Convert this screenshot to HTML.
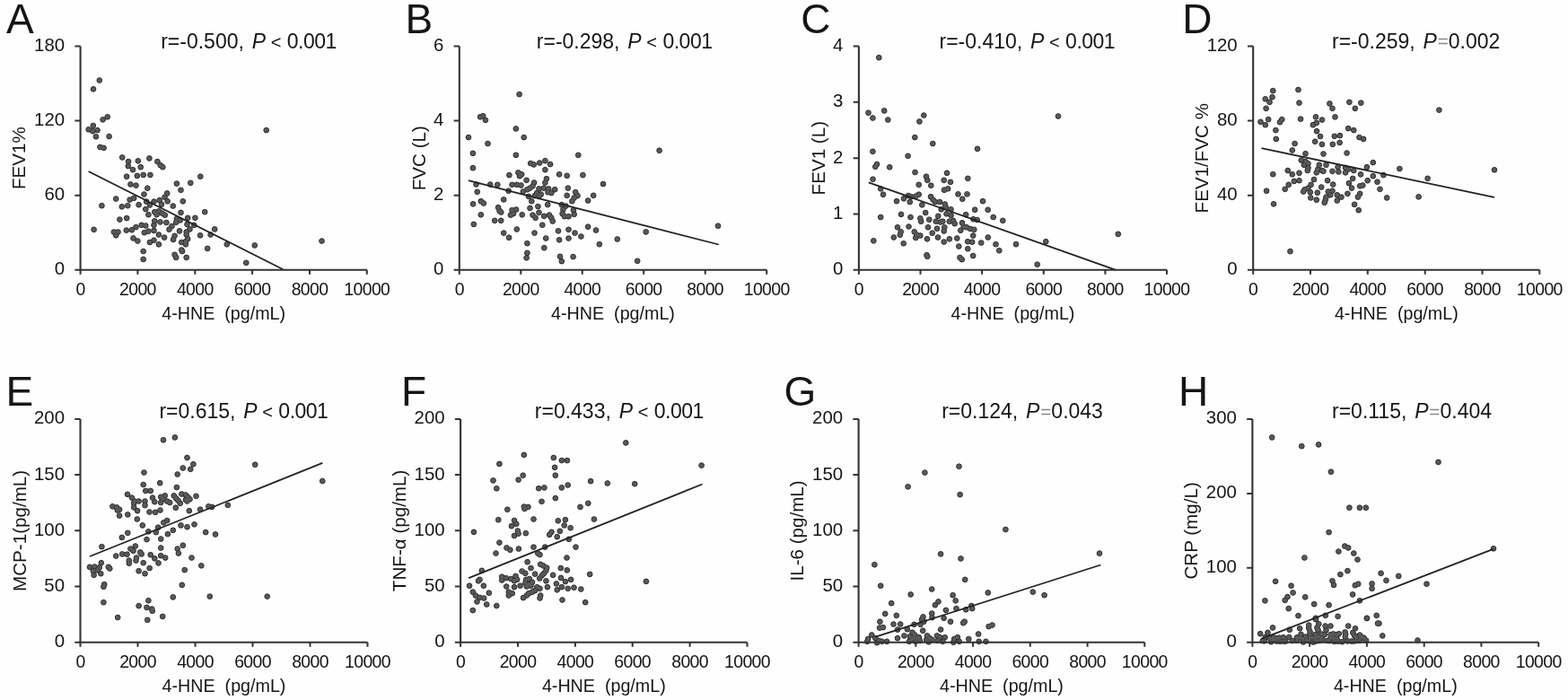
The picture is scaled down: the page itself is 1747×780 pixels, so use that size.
<!DOCTYPE html><html><head><meta charset="utf-8"><style>html,body{margin:0;padding:0;background:#fff;}svg{display:block}</style></head><body>
<svg width="1747" height="780" viewBox="0 0 1747 780" font-family='"Liberation Sans", Arial, sans-serif' fill="#151515">
<rect width="1747" height="780" fill="#fefefe"/>
<g><text x="72.1" y="306.2" text-anchor="end" font-size="20.4">0</text><text x="72.1" y="223.1" text-anchor="end" font-size="20.4">60</text><text x="72.1" y="140.0" text-anchor="end" font-size="20.4">120</text><text x="72.1" y="56.9" text-anchor="end" font-size="20.4">180</text><text x="89.6" y="328.9" text-anchor="middle" font-size="19.4" letter-spacing="-0.60">0</text><text x="153.4" y="328.9" text-anchor="middle" font-size="19.4" letter-spacing="-0.60">2000</text><text x="217.3" y="328.9" text-anchor="middle" font-size="19.4" letter-spacing="-0.60">4000</text><text x="281.1" y="328.9" text-anchor="middle" font-size="19.4" letter-spacing="-0.60">6000</text><text x="345.0" y="328.9" text-anchor="middle" font-size="19.4" letter-spacing="-0.60">8000</text><text x="408.8" y="328.9" text-anchor="middle" font-size="19.4" letter-spacing="-0.60">10000</text><text x="249.2" y="355.8" text-anchor="middle" font-size="19.7" xml:space="preserve">4-HNE  (pg/mL)</text><text transform="translate(27.6 176.2) rotate(-90)" text-anchor="middle" font-size="20.6" xml:space="preserve">FEV1%</text><text x="7.0" y="37.3" font-size="46.0">A</text><text x="179.2" y="53.8" font-size="23.0" xml:space="preserve">r=-0.500, <tspan font-style="italic" dx="2.4">P</tspan><tspan dx="-0.7"> </tspan><tspan font-size="20.0">&lt;</tspan> <tspan letter-spacing="-0.5">0.001</tspan></text><g fill="#595959" stroke="#2b2b2b" stroke-width="1"><circle cx="110.8" cy="89.5" r="2.85"/><circle cx="104.0" cy="99.3" r="2.85"/><circle cx="119.7" cy="130.3" r="2.85"/><circle cx="114.6" cy="133.3" r="2.85"/><circle cx="103.8" cy="140.0" r="2.85"/><circle cx="98.7" cy="144.3" r="2.85"/><circle cx="108.5" cy="145.1" r="2.85"/><circle cx="103.3" cy="146.2" r="2.85"/><circle cx="106.9" cy="152.3" r="2.85"/><circle cx="121.6" cy="152.0" r="2.85"/><circle cx="111.5" cy="163.9" r="2.85"/><circle cx="115.6" cy="164.8" r="2.85"/><circle cx="136.2" cy="175.4" r="2.85"/><circle cx="143.1" cy="180.0" r="2.85"/><circle cx="142.8" cy="185.1" r="2.85"/><circle cx="148.0" cy="189.2" r="2.85"/><circle cx="153.8" cy="179.3" r="2.85"/><circle cx="156.7" cy="186.2" r="2.85"/><circle cx="166.4" cy="176.4" r="2.85"/><circle cx="175.4" cy="180.0" r="2.85"/><circle cx="178.7" cy="184.1" r="2.85"/><circle cx="181.3" cy="186.2" r="2.85"/><circle cx="141.1" cy="196.7" r="2.85"/><circle cx="152.8" cy="195.9" r="2.85"/><circle cx="159.7" cy="194.9" r="2.85"/><circle cx="167.4" cy="194.9" r="2.85"/><circle cx="223.3" cy="196.7" r="2.85"/><circle cx="296.7" cy="145.1" r="2.85"/><circle cx="196.9" cy="204.6" r="2.85"/><circle cx="212.3" cy="203.8" r="2.85"/><circle cx="201.5" cy="211.8" r="2.85"/><circle cx="186.2" cy="215.4" r="2.85"/><circle cx="183.5" cy="219.7" r="2.85"/><circle cx="177.7" cy="223.1" r="2.85"/><circle cx="186.6" cy="224.3" r="2.85"/><circle cx="180.0" cy="227.7" r="2.85"/><circle cx="171.5" cy="224.6" r="2.85"/><circle cx="203.8" cy="224.3" r="2.85"/><circle cx="192.8" cy="229.5" r="2.85"/><circle cx="228.2" cy="236.2" r="2.85"/><circle cx="201.5" cy="236.9" r="2.85"/><circle cx="172.3" cy="236.2" r="2.85"/><circle cx="176.9" cy="235.4" r="2.85"/><circle cx="180.8" cy="237.7" r="2.85"/><circle cx="183.8" cy="239.7" r="2.85"/><circle cx="174.6" cy="239.2" r="2.85"/><circle cx="209.2" cy="242.8" r="2.85"/><circle cx="217.4" cy="242.8" r="2.85"/><circle cx="196.9" cy="243.8" r="2.85"/><circle cx="200.8" cy="245.4" r="2.85"/><circle cx="196.2" cy="247.7" r="2.85"/><circle cx="208.5" cy="250.0" r="2.85"/><circle cx="216.2" cy="250.8" r="2.85"/><circle cx="172.3" cy="246.2" r="2.85"/><circle cx="178.5" cy="247.4" r="2.85"/><circle cx="185.4" cy="248.0" r="2.85"/><circle cx="171.5" cy="250.8" r="2.85"/><circle cx="191.5" cy="252.0" r="2.85"/><circle cx="188.5" cy="255.7" r="2.85"/><circle cx="239.2" cy="255.4" r="2.85"/><circle cx="211.5" cy="255.4" r="2.85"/><circle cx="207.7" cy="258.5" r="2.85"/><circle cx="200.0" cy="257.4" r="2.85"/><circle cx="171.5" cy="256.9" r="2.85"/><circle cx="176.9" cy="261.5" r="2.85"/><circle cx="183.1" cy="264.6" r="2.85"/><circle cx="194.6" cy="262.8" r="2.85"/><circle cx="193.1" cy="266.9" r="2.85"/><circle cx="207.7" cy="261.5" r="2.85"/><circle cx="209.2" cy="266.2" r="2.85"/><circle cx="206.9" cy="269.2" r="2.85"/><circle cx="202.3" cy="270.0" r="2.85"/><circle cx="206.9" cy="272.3" r="2.85"/><circle cx="223.1" cy="262.3" r="2.85"/><circle cx="234.6" cy="261.5" r="2.85"/><circle cx="171.5" cy="267.7" r="2.85"/><circle cx="176.9" cy="272.3" r="2.85"/><circle cx="252.8" cy="272.3" r="2.85"/><circle cx="283.8" cy="273.4" r="2.85"/><circle cx="358.5" cy="268.5" r="2.85"/><circle cx="231.2" cy="276.9" r="2.85"/><circle cx="202.3" cy="278.5" r="2.85"/><circle cx="145.4" cy="205.4" r="2.85"/><circle cx="151.5" cy="206.6" r="2.85"/><circle cx="164.3" cy="209.7" r="2.85"/><circle cx="160.5" cy="216.5" r="2.85"/><circle cx="129.2" cy="221.5" r="2.85"/><circle cx="149.2" cy="220.8" r="2.85"/><circle cx="144.6" cy="222.6" r="2.85"/><circle cx="113.4" cy="229.2" r="2.85"/><circle cx="135.8" cy="230.3" r="2.85"/><circle cx="142.3" cy="229.2" r="2.85"/><circle cx="154.6" cy="228.2" r="2.85"/><circle cx="163.1" cy="224.6" r="2.85"/><circle cx="166.9" cy="228.5" r="2.85"/><circle cx="162.3" cy="233.1" r="2.85"/><circle cx="165.4" cy="239.2" r="2.85"/><circle cx="133.4" cy="244.6" r="2.85"/><circle cx="141.2" cy="243.1" r="2.85"/><circle cx="104.6" cy="255.8" r="2.85"/><circle cx="126.9" cy="258.5" r="2.85"/><circle cx="131.5" cy="258.5" r="2.85"/><circle cx="129.2" cy="262.3" r="2.85"/><circle cx="140.8" cy="256.6" r="2.85"/><circle cx="146.9" cy="256.2" r="2.85"/><circle cx="151.5" cy="253.1" r="2.85"/><circle cx="157.7" cy="250.8" r="2.85"/><circle cx="162.3" cy="251.5" r="2.85"/><circle cx="160.8" cy="259.2" r="2.85"/><circle cx="165.4" cy="257.7" r="2.85"/><circle cx="148.5" cy="265.4" r="2.85"/><circle cx="153.4" cy="268.5" r="2.85"/><circle cx="166.9" cy="270.0" r="2.85"/><circle cx="159.7" cy="280.0" r="2.85"/><circle cx="159.7" cy="288.9" r="2.85"/><circle cx="194.6" cy="283.8" r="2.85"/><circle cx="196.2" cy="286.9" r="2.85"/><circle cx="203.1" cy="280.0" r="2.85"/><circle cx="207.7" cy="286.9" r="2.85"/><circle cx="274.3" cy="292.8" r="2.85"/></g><g fill="#595959"><circle cx="110.8" cy="89.5" r="2.1"/><circle cx="104.0" cy="99.3" r="2.1"/><circle cx="119.7" cy="130.3" r="2.1"/><circle cx="114.6" cy="133.3" r="2.1"/><circle cx="103.8" cy="140.0" r="2.1"/><circle cx="98.7" cy="144.3" r="2.1"/><circle cx="108.5" cy="145.1" r="2.1"/><circle cx="103.3" cy="146.2" r="2.1"/><circle cx="106.9" cy="152.3" r="2.1"/><circle cx="121.6" cy="152.0" r="2.1"/><circle cx="111.5" cy="163.9" r="2.1"/><circle cx="115.6" cy="164.8" r="2.1"/><circle cx="136.2" cy="175.4" r="2.1"/><circle cx="143.1" cy="180.0" r="2.1"/><circle cx="142.8" cy="185.1" r="2.1"/><circle cx="148.0" cy="189.2" r="2.1"/><circle cx="153.8" cy="179.3" r="2.1"/><circle cx="156.7" cy="186.2" r="2.1"/><circle cx="166.4" cy="176.4" r="2.1"/><circle cx="175.4" cy="180.0" r="2.1"/><circle cx="178.7" cy="184.1" r="2.1"/><circle cx="181.3" cy="186.2" r="2.1"/><circle cx="141.1" cy="196.7" r="2.1"/><circle cx="152.8" cy="195.9" r="2.1"/><circle cx="159.7" cy="194.9" r="2.1"/><circle cx="167.4" cy="194.9" r="2.1"/><circle cx="223.3" cy="196.7" r="2.1"/><circle cx="296.7" cy="145.1" r="2.1"/><circle cx="196.9" cy="204.6" r="2.1"/><circle cx="212.3" cy="203.8" r="2.1"/><circle cx="201.5" cy="211.8" r="2.1"/><circle cx="186.2" cy="215.4" r="2.1"/><circle cx="183.5" cy="219.7" r="2.1"/><circle cx="177.7" cy="223.1" r="2.1"/><circle cx="186.6" cy="224.3" r="2.1"/><circle cx="180.0" cy="227.7" r="2.1"/><circle cx="171.5" cy="224.6" r="2.1"/><circle cx="203.8" cy="224.3" r="2.1"/><circle cx="192.8" cy="229.5" r="2.1"/><circle cx="228.2" cy="236.2" r="2.1"/><circle cx="201.5" cy="236.9" r="2.1"/><circle cx="172.3" cy="236.2" r="2.1"/><circle cx="176.9" cy="235.4" r="2.1"/><circle cx="180.8" cy="237.7" r="2.1"/><circle cx="183.8" cy="239.7" r="2.1"/><circle cx="174.6" cy="239.2" r="2.1"/><circle cx="209.2" cy="242.8" r="2.1"/><circle cx="217.4" cy="242.8" r="2.1"/><circle cx="196.9" cy="243.8" r="2.1"/><circle cx="200.8" cy="245.4" r="2.1"/><circle cx="196.2" cy="247.7" r="2.1"/><circle cx="208.5" cy="250.0" r="2.1"/><circle cx="216.2" cy="250.8" r="2.1"/><circle cx="172.3" cy="246.2" r="2.1"/><circle cx="178.5" cy="247.4" r="2.1"/><circle cx="185.4" cy="248.0" r="2.1"/><circle cx="171.5" cy="250.8" r="2.1"/><circle cx="191.5" cy="252.0" r="2.1"/><circle cx="188.5" cy="255.7" r="2.1"/><circle cx="239.2" cy="255.4" r="2.1"/><circle cx="211.5" cy="255.4" r="2.1"/><circle cx="207.7" cy="258.5" r="2.1"/><circle cx="200.0" cy="257.4" r="2.1"/><circle cx="171.5" cy="256.9" r="2.1"/><circle cx="176.9" cy="261.5" r="2.1"/><circle cx="183.1" cy="264.6" r="2.1"/><circle cx="194.6" cy="262.8" r="2.1"/><circle cx="193.1" cy="266.9" r="2.1"/><circle cx="207.7" cy="261.5" r="2.1"/><circle cx="209.2" cy="266.2" r="2.1"/><circle cx="206.9" cy="269.2" r="2.1"/><circle cx="202.3" cy="270.0" r="2.1"/><circle cx="206.9" cy="272.3" r="2.1"/><circle cx="223.1" cy="262.3" r="2.1"/><circle cx="234.6" cy="261.5" r="2.1"/><circle cx="171.5" cy="267.7" r="2.1"/><circle cx="176.9" cy="272.3" r="2.1"/><circle cx="252.8" cy="272.3" r="2.1"/><circle cx="283.8" cy="273.4" r="2.1"/><circle cx="358.5" cy="268.5" r="2.1"/><circle cx="231.2" cy="276.9" r="2.1"/><circle cx="202.3" cy="278.5" r="2.1"/><circle cx="145.4" cy="205.4" r="2.1"/><circle cx="151.5" cy="206.6" r="2.1"/><circle cx="164.3" cy="209.7" r="2.1"/><circle cx="160.5" cy="216.5" r="2.1"/><circle cx="129.2" cy="221.5" r="2.1"/><circle cx="149.2" cy="220.8" r="2.1"/><circle cx="144.6" cy="222.6" r="2.1"/><circle cx="113.4" cy="229.2" r="2.1"/><circle cx="135.8" cy="230.3" r="2.1"/><circle cx="142.3" cy="229.2" r="2.1"/><circle cx="154.6" cy="228.2" r="2.1"/><circle cx="163.1" cy="224.6" r="2.1"/><circle cx="166.9" cy="228.5" r="2.1"/><circle cx="162.3" cy="233.1" r="2.1"/><circle cx="165.4" cy="239.2" r="2.1"/><circle cx="133.4" cy="244.6" r="2.1"/><circle cx="141.2" cy="243.1" r="2.1"/><circle cx="104.6" cy="255.8" r="2.1"/><circle cx="126.9" cy="258.5" r="2.1"/><circle cx="131.5" cy="258.5" r="2.1"/><circle cx="129.2" cy="262.3" r="2.1"/><circle cx="140.8" cy="256.6" r="2.1"/><circle cx="146.9" cy="256.2" r="2.1"/><circle cx="151.5" cy="253.1" r="2.1"/><circle cx="157.7" cy="250.8" r="2.1"/><circle cx="162.3" cy="251.5" r="2.1"/><circle cx="160.8" cy="259.2" r="2.1"/><circle cx="165.4" cy="257.7" r="2.1"/><circle cx="148.5" cy="265.4" r="2.1"/><circle cx="153.4" cy="268.5" r="2.1"/><circle cx="166.9" cy="270.0" r="2.1"/><circle cx="159.7" cy="280.0" r="2.1"/><circle cx="159.7" cy="288.9" r="2.1"/><circle cx="194.6" cy="283.8" r="2.1"/><circle cx="196.2" cy="286.9" r="2.1"/><circle cx="203.1" cy="280.0" r="2.1"/><circle cx="207.7" cy="286.9" r="2.1"/><circle cx="274.3" cy="292.8" r="2.1"/></g><line x1="98.6" y1="191.0" x2="315.5" y2="300.3" stroke="#222" stroke-width="1.8"/><path d="M89.6 51.5V300.8H408.8" fill="none" stroke="#333" stroke-width="2.1"/><path d="M83.4 300.8H89.6M83.4 217.7H89.6M83.4 134.6H89.6M83.4 51.5H89.6M89.6 300.8V305.8M153.4 300.8V305.8M217.3 300.8V305.8M281.1 300.8V305.8M345.0 300.8V305.8M408.8 300.8V305.8" fill="none" stroke="#333" stroke-width="2"/></g>
<g><text x="494.3" y="306.2" text-anchor="end" font-size="20.4">0</text><text x="494.3" y="223.1" text-anchor="end" font-size="20.4">2</text><text x="494.3" y="140.0" text-anchor="end" font-size="20.4">4</text><text x="494.3" y="56.9" text-anchor="end" font-size="20.4">6</text><text x="511.8" y="328.9" text-anchor="middle" font-size="19.4" letter-spacing="-0.60">0</text><text x="580.3" y="328.9" text-anchor="middle" font-size="19.4" letter-spacing="-0.60">2000</text><text x="648.8" y="328.9" text-anchor="middle" font-size="19.4" letter-spacing="-0.60">4000</text><text x="717.2" y="328.9" text-anchor="middle" font-size="19.4" letter-spacing="-0.60">6000</text><text x="785.7" y="328.9" text-anchor="middle" font-size="19.4" letter-spacing="-0.60">8000</text><text x="854.2" y="328.9" text-anchor="middle" font-size="19.4" letter-spacing="-0.60">10000</text><text x="683.0" y="355.8" text-anchor="middle" font-size="19.7" xml:space="preserve">4-HNE  (pg/mL)</text><text transform="translate(473.8 176.2) rotate(-90)" text-anchor="middle" font-size="20.6" xml:space="preserve">FVC (L)</text><text x="451.6" y="37.3" font-size="46.0">B</text><text x="597.8" y="53.8" font-size="23.0" xml:space="preserve">r=-0.298, <tspan font-style="italic" dx="2.4">P</tspan><tspan dx="-0.7"> </tspan><tspan font-size="20.0">&lt;</tspan> <tspan letter-spacing="-0.5">0.001</tspan></text><g fill="#595959" stroke="#2b2b2b" stroke-width="1"><circle cx="578.6" cy="105.1" r="2.85"/><circle cx="535.1" cy="130.3" r="2.85"/><circle cx="538.2" cy="129.2" r="2.85"/><circle cx="540.9" cy="133.8" r="2.85"/><circle cx="574.8" cy="143.4" r="2.85"/><circle cx="522.0" cy="153.1" r="2.85"/><circle cx="583.7" cy="153.1" r="2.85"/><circle cx="543.5" cy="160.0" r="2.85"/><circle cx="526.9" cy="170.8" r="2.85"/><circle cx="574.8" cy="172.8" r="2.85"/><circle cx="644.3" cy="172.8" r="2.85"/><circle cx="734.6" cy="167.7" r="2.85"/><circle cx="526.9" cy="187.2" r="2.85"/><circle cx="591.2" cy="182.0" r="2.85"/><circle cx="594.8" cy="183.4" r="2.85"/><circle cx="601.2" cy="181.5" r="2.85"/><circle cx="607.4" cy="179.2" r="2.85"/><circle cx="613.1" cy="183.1" r="2.85"/><circle cx="607.4" cy="189.2" r="2.85"/><circle cx="567.4" cy="195.1" r="2.85"/><circle cx="577.4" cy="192.3" r="2.85"/><circle cx="581.2" cy="194.3" r="2.85"/><circle cx="578.9" cy="196.2" r="2.85"/><circle cx="623.1" cy="194.3" r="2.85"/><circle cx="631.7" cy="195.8" r="2.85"/><circle cx="649.4" cy="195.1" r="2.85"/><circle cx="608.9" cy="199.2" r="2.85"/><circle cx="586.6" cy="200.8" r="2.85"/><circle cx="607.4" cy="203.5" r="2.85"/><circle cx="672.0" cy="205.0" r="2.85"/><circle cx="530.5" cy="205.5" r="2.85"/><circle cx="546.2" cy="205.5" r="2.85"/><circle cx="554.3" cy="205.8" r="2.85"/><circle cx="570.5" cy="205.8" r="2.85"/><circle cx="575.8" cy="205.8" r="2.85"/><circle cx="580.5" cy="206.5" r="2.85"/><circle cx="595.1" cy="203.5" r="2.85"/><circle cx="593.5" cy="207.3" r="2.85"/><circle cx="590.5" cy="209.6" r="2.85"/><circle cx="587.4" cy="211.2" r="2.85"/><circle cx="582.8" cy="213.5" r="2.85"/><circle cx="566.6" cy="212.7" r="2.85"/><circle cx="531.7" cy="213.8" r="2.85"/><circle cx="632.8" cy="209.6" r="2.85"/><circle cx="600.5" cy="210.4" r="2.85"/><circle cx="605.8" cy="209.6" r="2.85"/><circle cx="611.2" cy="210.4" r="2.85"/><circle cx="618.2" cy="211.2" r="2.85"/><circle cx="598.2" cy="215.0" r="2.85"/><circle cx="602.8" cy="216.5" r="2.85"/><circle cx="610.5" cy="214.2" r="2.85"/><circle cx="614.3" cy="215.0" r="2.85"/><circle cx="588.9" cy="218.8" r="2.85"/><circle cx="595.8" cy="218.1" r="2.85"/><circle cx="600.5" cy="218.8" r="2.85"/><circle cx="631.7" cy="217.8" r="2.85"/><circle cx="641.2" cy="214.2" r="2.85"/><circle cx="643.5" cy="218.1" r="2.85"/><circle cx="639.7" cy="220.4" r="2.85"/><circle cx="637.4" cy="224.2" r="2.85"/><circle cx="661.2" cy="217.8" r="2.85"/><circle cx="655.1" cy="223.5" r="2.85"/><circle cx="561.2" cy="222.4" r="2.85"/><circle cx="527.1" cy="227.3" r="2.85"/><circle cx="535.8" cy="224.2" r="2.85"/><circle cx="538.9" cy="226.5" r="2.85"/><circle cx="592.3" cy="224.2" r="2.85"/><circle cx="610.2" cy="228.1" r="2.85"/><circle cx="599.4" cy="230.1" r="2.85"/><circle cx="590.5" cy="231.9" r="2.85"/><circle cx="555.1" cy="231.2" r="2.85"/><circle cx="556.6" cy="235.0" r="2.85"/><circle cx="558.2" cy="236.5" r="2.85"/><circle cx="570.5" cy="234.2" r="2.85"/><circle cx="575.1" cy="233.5" r="2.85"/><circle cx="572.0" cy="238.1" r="2.85"/><circle cx="568.9" cy="239.6" r="2.85"/><circle cx="581.7" cy="239.3" r="2.85"/><circle cx="600.5" cy="236.8" r="2.85"/><circle cx="593.5" cy="239.6" r="2.85"/><circle cx="596.6" cy="242.7" r="2.85"/><circle cx="535.8" cy="239.3" r="2.85"/><circle cx="625.8" cy="228.1" r="2.85"/><circle cx="630.5" cy="229.6" r="2.85"/><circle cx="627.4" cy="233.5" r="2.85"/><circle cx="626.6" cy="238.1" r="2.85"/><circle cx="628.9" cy="241.2" r="2.85"/><circle cx="633.5" cy="241.2" r="2.85"/><circle cx="638.9" cy="234.2" r="2.85"/><circle cx="639.7" cy="238.8" r="2.85"/><circle cx="606.2" cy="240.8" r="2.85"/><circle cx="612.0" cy="239.6" r="2.85"/><circle cx="614.3" cy="242.7" r="2.85"/><circle cx="615.8" cy="246.5" r="2.85"/><circle cx="551.2" cy="245.8" r="2.85"/><circle cx="558.2" cy="245.8" r="2.85"/><circle cx="527.8" cy="249.9" r="2.85"/><circle cx="604.3" cy="250.7" r="2.85"/><circle cx="655.1" cy="252.7" r="2.85"/><circle cx="664.0" cy="256.5" r="2.85"/><circle cx="575.8" cy="255.5" r="2.85"/><circle cx="561.2" cy="259.6" r="2.85"/><circle cx="567.1" cy="264.7" r="2.85"/><circle cx="595.5" cy="259.6" r="2.85"/><circle cx="622.0" cy="257.3" r="2.85"/><circle cx="633.5" cy="255.8" r="2.85"/><circle cx="640.5" cy="259.6" r="2.85"/><circle cx="647.4" cy="263.5" r="2.85"/><circle cx="608.2" cy="265.5" r="2.85"/><circle cx="623.1" cy="267.3" r="2.85"/><circle cx="633.5" cy="265.5" r="2.85"/><circle cx="719.7" cy="258.4" r="2.85"/><circle cx="687.8" cy="266.5" r="2.85"/><circle cx="667.8" cy="272.2" r="2.85"/><circle cx="587.4" cy="271.2" r="2.85"/><circle cx="606.3" cy="276.2" r="2.85"/><circle cx="587.4" cy="281.9" r="2.85"/><circle cx="586.6" cy="287.3" r="2.85"/><circle cx="624.0" cy="285.8" r="2.85"/><circle cx="625.8" cy="291.2" r="2.85"/><circle cx="638.6" cy="286.1" r="2.85"/><circle cx="710.2" cy="290.8" r="2.85"/><circle cx="800.0" cy="251.7" r="2.85"/></g><g fill="#595959"><circle cx="578.6" cy="105.1" r="2.1"/><circle cx="535.1" cy="130.3" r="2.1"/><circle cx="538.2" cy="129.2" r="2.1"/><circle cx="540.9" cy="133.8" r="2.1"/><circle cx="574.8" cy="143.4" r="2.1"/><circle cx="522.0" cy="153.1" r="2.1"/><circle cx="583.7" cy="153.1" r="2.1"/><circle cx="543.5" cy="160.0" r="2.1"/><circle cx="526.9" cy="170.8" r="2.1"/><circle cx="574.8" cy="172.8" r="2.1"/><circle cx="644.3" cy="172.8" r="2.1"/><circle cx="734.6" cy="167.7" r="2.1"/><circle cx="526.9" cy="187.2" r="2.1"/><circle cx="591.2" cy="182.0" r="2.1"/><circle cx="594.8" cy="183.4" r="2.1"/><circle cx="601.2" cy="181.5" r="2.1"/><circle cx="607.4" cy="179.2" r="2.1"/><circle cx="613.1" cy="183.1" r="2.1"/><circle cx="607.4" cy="189.2" r="2.1"/><circle cx="567.4" cy="195.1" r="2.1"/><circle cx="577.4" cy="192.3" r="2.1"/><circle cx="581.2" cy="194.3" r="2.1"/><circle cx="578.9" cy="196.2" r="2.1"/><circle cx="623.1" cy="194.3" r="2.1"/><circle cx="631.7" cy="195.8" r="2.1"/><circle cx="649.4" cy="195.1" r="2.1"/><circle cx="608.9" cy="199.2" r="2.1"/><circle cx="586.6" cy="200.8" r="2.1"/><circle cx="607.4" cy="203.5" r="2.1"/><circle cx="672.0" cy="205.0" r="2.1"/><circle cx="530.5" cy="205.5" r="2.1"/><circle cx="546.2" cy="205.5" r="2.1"/><circle cx="554.3" cy="205.8" r="2.1"/><circle cx="570.5" cy="205.8" r="2.1"/><circle cx="575.8" cy="205.8" r="2.1"/><circle cx="580.5" cy="206.5" r="2.1"/><circle cx="595.1" cy="203.5" r="2.1"/><circle cx="593.5" cy="207.3" r="2.1"/><circle cx="590.5" cy="209.6" r="2.1"/><circle cx="587.4" cy="211.2" r="2.1"/><circle cx="582.8" cy="213.5" r="2.1"/><circle cx="566.6" cy="212.7" r="2.1"/><circle cx="531.7" cy="213.8" r="2.1"/><circle cx="632.8" cy="209.6" r="2.1"/><circle cx="600.5" cy="210.4" r="2.1"/><circle cx="605.8" cy="209.6" r="2.1"/><circle cx="611.2" cy="210.4" r="2.1"/><circle cx="618.2" cy="211.2" r="2.1"/><circle cx="598.2" cy="215.0" r="2.1"/><circle cx="602.8" cy="216.5" r="2.1"/><circle cx="610.5" cy="214.2" r="2.1"/><circle cx="614.3" cy="215.0" r="2.1"/><circle cx="588.9" cy="218.8" r="2.1"/><circle cx="595.8" cy="218.1" r="2.1"/><circle cx="600.5" cy="218.8" r="2.1"/><circle cx="631.7" cy="217.8" r="2.1"/><circle cx="641.2" cy="214.2" r="2.1"/><circle cx="643.5" cy="218.1" r="2.1"/><circle cx="639.7" cy="220.4" r="2.1"/><circle cx="637.4" cy="224.2" r="2.1"/><circle cx="661.2" cy="217.8" r="2.1"/><circle cx="655.1" cy="223.5" r="2.1"/><circle cx="561.2" cy="222.4" r="2.1"/><circle cx="527.1" cy="227.3" r="2.1"/><circle cx="535.8" cy="224.2" r="2.1"/><circle cx="538.9" cy="226.5" r="2.1"/><circle cx="592.3" cy="224.2" r="2.1"/><circle cx="610.2" cy="228.1" r="2.1"/><circle cx="599.4" cy="230.1" r="2.1"/><circle cx="590.5" cy="231.9" r="2.1"/><circle cx="555.1" cy="231.2" r="2.1"/><circle cx="556.6" cy="235.0" r="2.1"/><circle cx="558.2" cy="236.5" r="2.1"/><circle cx="570.5" cy="234.2" r="2.1"/><circle cx="575.1" cy="233.5" r="2.1"/><circle cx="572.0" cy="238.1" r="2.1"/><circle cx="568.9" cy="239.6" r="2.1"/><circle cx="581.7" cy="239.3" r="2.1"/><circle cx="600.5" cy="236.8" r="2.1"/><circle cx="593.5" cy="239.6" r="2.1"/><circle cx="596.6" cy="242.7" r="2.1"/><circle cx="535.8" cy="239.3" r="2.1"/><circle cx="625.8" cy="228.1" r="2.1"/><circle cx="630.5" cy="229.6" r="2.1"/><circle cx="627.4" cy="233.5" r="2.1"/><circle cx="626.6" cy="238.1" r="2.1"/><circle cx="628.9" cy="241.2" r="2.1"/><circle cx="633.5" cy="241.2" r="2.1"/><circle cx="638.9" cy="234.2" r="2.1"/><circle cx="639.7" cy="238.8" r="2.1"/><circle cx="606.2" cy="240.8" r="2.1"/><circle cx="612.0" cy="239.6" r="2.1"/><circle cx="614.3" cy="242.7" r="2.1"/><circle cx="615.8" cy="246.5" r="2.1"/><circle cx="551.2" cy="245.8" r="2.1"/><circle cx="558.2" cy="245.8" r="2.1"/><circle cx="527.8" cy="249.9" r="2.1"/><circle cx="604.3" cy="250.7" r="2.1"/><circle cx="655.1" cy="252.7" r="2.1"/><circle cx="664.0" cy="256.5" r="2.1"/><circle cx="575.8" cy="255.5" r="2.1"/><circle cx="561.2" cy="259.6" r="2.1"/><circle cx="567.1" cy="264.7" r="2.1"/><circle cx="595.5" cy="259.6" r="2.1"/><circle cx="622.0" cy="257.3" r="2.1"/><circle cx="633.5" cy="255.8" r="2.1"/><circle cx="640.5" cy="259.6" r="2.1"/><circle cx="647.4" cy="263.5" r="2.1"/><circle cx="608.2" cy="265.5" r="2.1"/><circle cx="623.1" cy="267.3" r="2.1"/><circle cx="633.5" cy="265.5" r="2.1"/><circle cx="719.7" cy="258.4" r="2.1"/><circle cx="687.8" cy="266.5" r="2.1"/><circle cx="667.8" cy="272.2" r="2.1"/><circle cx="587.4" cy="271.2" r="2.1"/><circle cx="606.3" cy="276.2" r="2.1"/><circle cx="587.4" cy="281.9" r="2.1"/><circle cx="586.6" cy="287.3" r="2.1"/><circle cx="624.0" cy="285.8" r="2.1"/><circle cx="625.8" cy="291.2" r="2.1"/><circle cx="638.6" cy="286.1" r="2.1"/><circle cx="710.2" cy="290.8" r="2.1"/><circle cx="800.0" cy="251.7" r="2.1"/></g><line x1="522.0" y1="201.2" x2="800.8" y2="272.5" stroke="#222" stroke-width="1.8"/><path d="M511.8 51.5V300.8H854.2" fill="none" stroke="#333" stroke-width="2.1"/><path d="M505.6 300.8H511.8M505.6 217.7H511.8M505.6 134.6H511.8M505.6 51.5H511.8M511.8 300.8V305.8M580.3 300.8V305.8M648.8 300.8V305.8M717.2 300.8V305.8M785.7 300.8V305.8M854.2 300.8V305.8" fill="none" stroke="#333" stroke-width="2"/></g>
<g><text x="939.4" y="306.2" text-anchor="end" font-size="20.4">0</text><text x="939.4" y="243.9" text-anchor="end" font-size="20.4">1</text><text x="939.4" y="181.6" text-anchor="end" font-size="20.4">2</text><text x="939.4" y="119.2" text-anchor="end" font-size="20.4">3</text><text x="939.4" y="56.9" text-anchor="end" font-size="20.4">4</text><text x="956.9" y="328.9" text-anchor="middle" font-size="19.4" letter-spacing="-0.60">0</text><text x="1025.5" y="328.9" text-anchor="middle" font-size="19.4" letter-spacing="-0.60">2000</text><text x="1094.1" y="328.9" text-anchor="middle" font-size="19.4" letter-spacing="-0.60">4000</text><text x="1162.8" y="328.9" text-anchor="middle" font-size="19.4" letter-spacing="-0.60">6000</text><text x="1231.4" y="328.9" text-anchor="middle" font-size="19.4" letter-spacing="-0.60">8000</text><text x="1300.0" y="328.9" text-anchor="middle" font-size="19.4" letter-spacing="-0.60">10000</text><text x="1128.5" y="355.8" text-anchor="middle" font-size="19.7" xml:space="preserve">4-HNE  (pg/mL)</text><text transform="translate(919.2 176.2) rotate(-90)" text-anchor="middle" font-size="20.6" xml:space="preserve">FEV1 (L)</text><text x="892.3" y="37.3" font-size="46.0">C</text><text x="1046.5" y="53.8" font-size="23.0" xml:space="preserve">r=-0.410, <tspan font-style="italic" dx="2.4">P</tspan><tspan dx="-0.7"> </tspan><tspan font-size="20.0">&lt;</tspan> <tspan letter-spacing="-0.5">0.001</tspan></text><g fill="#595959" stroke="#2b2b2b" stroke-width="1"><circle cx="979.3" cy="64.2" r="2.85"/><circle cx="967.5" cy="125.7" r="2.85"/><circle cx="972.4" cy="131.5" r="2.85"/><circle cx="985.2" cy="123.4" r="2.85"/><circle cx="989.3" cy="133.5" r="2.85"/><circle cx="1029.3" cy="128.5" r="2.85"/><circle cx="1024.4" cy="135.4" r="2.85"/><circle cx="1179.0" cy="129.5" r="2.85"/><circle cx="1019.3" cy="153.1" r="2.85"/><circle cx="1039.3" cy="160.0" r="2.85"/><circle cx="1089.0" cy="165.8" r="2.85"/><circle cx="972.4" cy="168.8" r="2.85"/><circle cx="1011.6" cy="173.8" r="2.85"/><circle cx="977.0" cy="183.0" r="2.85"/><circle cx="975.3" cy="185.8" r="2.85"/><circle cx="991.2" cy="186.3" r="2.85"/><circle cx="1019.5" cy="192.0" r="2.85"/><circle cx="1055.0" cy="192.8" r="2.85"/><circle cx="1032.0" cy="196.7" r="2.85"/><circle cx="1033.3" cy="200.8" r="2.85"/><circle cx="1051.7" cy="200.8" r="2.85"/><circle cx="1059.0" cy="202.8" r="2.85"/><circle cx="1078.3" cy="198.8" r="2.85"/><circle cx="972.5" cy="199.7" r="2.85"/><circle cx="1023.7" cy="205.8" r="2.85"/><circle cx="1037.3" cy="206.7" r="2.85"/><circle cx="1052.0" cy="211.7" r="2.85"/><circle cx="1056.2" cy="210.3" r="2.85"/><circle cx="981.2" cy="210.3" r="2.85"/><circle cx="984.0" cy="216.7" r="2.85"/><circle cx="1067.5" cy="216.3" r="2.85"/><circle cx="1077.5" cy="216.3" r="2.85"/><circle cx="1072.3" cy="221.7" r="2.85"/><circle cx="1095.0" cy="224.2" r="2.85"/><circle cx="999.0" cy="224.2" r="2.85"/><circle cx="1007.0" cy="221.3" r="2.85"/><circle cx="1012.0" cy="218.0" r="2.85"/><circle cx="1015.3" cy="219.2" r="2.85"/><circle cx="1013.7" cy="225.0" r="2.85"/><circle cx="1023.7" cy="216.7" r="2.85"/><circle cx="1020.3" cy="218.7" r="2.85"/><circle cx="1027.3" cy="228.3" r="2.85"/><circle cx="1037.0" cy="219.2" r="2.85"/><circle cx="1039.5" cy="222.5" r="2.85"/><circle cx="1042.0" cy="225.0" r="2.85"/><circle cx="1047.0" cy="225.0" r="2.85"/><circle cx="1052.8" cy="227.5" r="2.85"/><circle cx="1053.7" cy="230.8" r="2.85"/><circle cx="1048.7" cy="233.3" r="2.85"/><circle cx="1059.5" cy="233.3" r="2.85"/><circle cx="1054.5" cy="238.3" r="2.85"/><circle cx="1059.5" cy="240.0" r="2.85"/><circle cx="1086.2" cy="233.7" r="2.85"/><circle cx="1100.7" cy="233.8" r="2.85"/><circle cx="1076.2" cy="239.2" r="2.85"/><circle cx="1106.7" cy="242.0" r="2.85"/><circle cx="1117.3" cy="245.8" r="2.85"/><circle cx="981.2" cy="242.0" r="2.85"/><circle cx="1004.0" cy="238.8" r="2.85"/><circle cx="1014.5" cy="242.0" r="2.85"/><circle cx="1031.2" cy="237.0" r="2.85"/><circle cx="1025.3" cy="243.3" r="2.85"/><circle cx="1026.2" cy="246.7" r="2.85"/><circle cx="1035.3" cy="244.7" r="2.85"/><circle cx="1045.3" cy="240.8" r="2.85"/><circle cx="1042.8" cy="246.7" r="2.85"/><circle cx="1047.8" cy="247.5" r="2.85"/><circle cx="1050.3" cy="246.7" r="2.85"/><circle cx="1057.8" cy="246.7" r="2.85"/><circle cx="1062.0" cy="245.8" r="2.85"/><circle cx="1063.7" cy="249.2" r="2.85"/><circle cx="1084.5" cy="244.2" r="2.85"/><circle cx="1088.7" cy="245.0" r="2.85"/><circle cx="1072.0" cy="248.3" r="2.85"/><circle cx="1073.7" cy="252.5" r="2.85"/><circle cx="1070.3" cy="256.7" r="2.85"/><circle cx="1077.0" cy="253.3" r="2.85"/><circle cx="1081.2" cy="255.0" r="2.85"/><circle cx="1085.3" cy="255.8" r="2.85"/><circle cx="1000.0" cy="253.3" r="2.85"/><circle cx="1012.5" cy="252.5" r="2.85"/><circle cx="1034.0" cy="253.3" r="2.85"/><circle cx="1044.0" cy="254.7" r="2.85"/><circle cx="1052.3" cy="253.3" r="2.85"/><circle cx="1051.7" cy="257.5" r="2.85"/><circle cx="1003.7" cy="258.3" r="2.85"/><circle cx="1002.8" cy="261.7" r="2.85"/><circle cx="1018.7" cy="258.3" r="2.85"/><circle cx="1021.2" cy="261.7" r="2.85"/><circle cx="1025.3" cy="262.5" r="2.85"/><circle cx="1020.3" cy="265.0" r="2.85"/><circle cx="1038.7" cy="259.7" r="2.85"/><circle cx="995.8" cy="264.5" r="2.85"/><circle cx="973.3" cy="268.3" r="2.85"/><circle cx="1045.0" cy="264.5" r="2.85"/><circle cx="1033.0" cy="266.3" r="2.85"/><circle cx="1057.8" cy="266.3" r="2.85"/><circle cx="1051.7" cy="269.5" r="2.85"/><circle cx="1066.3" cy="265.5" r="2.85"/><circle cx="1084.2" cy="262.5" r="2.85"/><circle cx="1078.2" cy="269.2" r="2.85"/><circle cx="1083.2" cy="269.7" r="2.85"/><circle cx="1100.8" cy="264.5" r="2.85"/><circle cx="1093.2" cy="270.5" r="2.85"/><circle cx="1109.5" cy="272.2" r="2.85"/><circle cx="1132.0" cy="272.2" r="2.85"/><circle cx="1165.3" cy="269.2" r="2.85"/><circle cx="1006.7" cy="271.3" r="2.85"/><circle cx="1068.3" cy="274.5" r="2.85"/><circle cx="1078.3" cy="277.2" r="2.85"/><circle cx="1113.3" cy="279.2" r="2.85"/><circle cx="1032.5" cy="284.2" r="2.85"/><circle cx="1033.3" cy="285.8" r="2.85"/><circle cx="1069.5" cy="287.0" r="2.85"/><circle cx="1071.7" cy="289.2" r="2.85"/><circle cx="1084.2" cy="285.0" r="2.85"/><circle cx="1155.7" cy="294.7" r="2.85"/><circle cx="1245.8" cy="260.8" r="2.85"/></g><g fill="#595959"><circle cx="979.3" cy="64.2" r="2.1"/><circle cx="967.5" cy="125.7" r="2.1"/><circle cx="972.4" cy="131.5" r="2.1"/><circle cx="985.2" cy="123.4" r="2.1"/><circle cx="989.3" cy="133.5" r="2.1"/><circle cx="1029.3" cy="128.5" r="2.1"/><circle cx="1024.4" cy="135.4" r="2.1"/><circle cx="1179.0" cy="129.5" r="2.1"/><circle cx="1019.3" cy="153.1" r="2.1"/><circle cx="1039.3" cy="160.0" r="2.1"/><circle cx="1089.0" cy="165.8" r="2.1"/><circle cx="972.4" cy="168.8" r="2.1"/><circle cx="1011.6" cy="173.8" r="2.1"/><circle cx="977.0" cy="183.0" r="2.1"/><circle cx="975.3" cy="185.8" r="2.1"/><circle cx="991.2" cy="186.3" r="2.1"/><circle cx="1019.5" cy="192.0" r="2.1"/><circle cx="1055.0" cy="192.8" r="2.1"/><circle cx="1032.0" cy="196.7" r="2.1"/><circle cx="1033.3" cy="200.8" r="2.1"/><circle cx="1051.7" cy="200.8" r="2.1"/><circle cx="1059.0" cy="202.8" r="2.1"/><circle cx="1078.3" cy="198.8" r="2.1"/><circle cx="972.5" cy="199.7" r="2.1"/><circle cx="1023.7" cy="205.8" r="2.1"/><circle cx="1037.3" cy="206.7" r="2.1"/><circle cx="1052.0" cy="211.7" r="2.1"/><circle cx="1056.2" cy="210.3" r="2.1"/><circle cx="981.2" cy="210.3" r="2.1"/><circle cx="984.0" cy="216.7" r="2.1"/><circle cx="1067.5" cy="216.3" r="2.1"/><circle cx="1077.5" cy="216.3" r="2.1"/><circle cx="1072.3" cy="221.7" r="2.1"/><circle cx="1095.0" cy="224.2" r="2.1"/><circle cx="999.0" cy="224.2" r="2.1"/><circle cx="1007.0" cy="221.3" r="2.1"/><circle cx="1012.0" cy="218.0" r="2.1"/><circle cx="1015.3" cy="219.2" r="2.1"/><circle cx="1013.7" cy="225.0" r="2.1"/><circle cx="1023.7" cy="216.7" r="2.1"/><circle cx="1020.3" cy="218.7" r="2.1"/><circle cx="1027.3" cy="228.3" r="2.1"/><circle cx="1037.0" cy="219.2" r="2.1"/><circle cx="1039.5" cy="222.5" r="2.1"/><circle cx="1042.0" cy="225.0" r="2.1"/><circle cx="1047.0" cy="225.0" r="2.1"/><circle cx="1052.8" cy="227.5" r="2.1"/><circle cx="1053.7" cy="230.8" r="2.1"/><circle cx="1048.7" cy="233.3" r="2.1"/><circle cx="1059.5" cy="233.3" r="2.1"/><circle cx="1054.5" cy="238.3" r="2.1"/><circle cx="1059.5" cy="240.0" r="2.1"/><circle cx="1086.2" cy="233.7" r="2.1"/><circle cx="1100.7" cy="233.8" r="2.1"/><circle cx="1076.2" cy="239.2" r="2.1"/><circle cx="1106.7" cy="242.0" r="2.1"/><circle cx="1117.3" cy="245.8" r="2.1"/><circle cx="981.2" cy="242.0" r="2.1"/><circle cx="1004.0" cy="238.8" r="2.1"/><circle cx="1014.5" cy="242.0" r="2.1"/><circle cx="1031.2" cy="237.0" r="2.1"/><circle cx="1025.3" cy="243.3" r="2.1"/><circle cx="1026.2" cy="246.7" r="2.1"/><circle cx="1035.3" cy="244.7" r="2.1"/><circle cx="1045.3" cy="240.8" r="2.1"/><circle cx="1042.8" cy="246.7" r="2.1"/><circle cx="1047.8" cy="247.5" r="2.1"/><circle cx="1050.3" cy="246.7" r="2.1"/><circle cx="1057.8" cy="246.7" r="2.1"/><circle cx="1062.0" cy="245.8" r="2.1"/><circle cx="1063.7" cy="249.2" r="2.1"/><circle cx="1084.5" cy="244.2" r="2.1"/><circle cx="1088.7" cy="245.0" r="2.1"/><circle cx="1072.0" cy="248.3" r="2.1"/><circle cx="1073.7" cy="252.5" r="2.1"/><circle cx="1070.3" cy="256.7" r="2.1"/><circle cx="1077.0" cy="253.3" r="2.1"/><circle cx="1081.2" cy="255.0" r="2.1"/><circle cx="1085.3" cy="255.8" r="2.1"/><circle cx="1000.0" cy="253.3" r="2.1"/><circle cx="1012.5" cy="252.5" r="2.1"/><circle cx="1034.0" cy="253.3" r="2.1"/><circle cx="1044.0" cy="254.7" r="2.1"/><circle cx="1052.3" cy="253.3" r="2.1"/><circle cx="1051.7" cy="257.5" r="2.1"/><circle cx="1003.7" cy="258.3" r="2.1"/><circle cx="1002.8" cy="261.7" r="2.1"/><circle cx="1018.7" cy="258.3" r="2.1"/><circle cx="1021.2" cy="261.7" r="2.1"/><circle cx="1025.3" cy="262.5" r="2.1"/><circle cx="1020.3" cy="265.0" r="2.1"/><circle cx="1038.7" cy="259.7" r="2.1"/><circle cx="995.8" cy="264.5" r="2.1"/><circle cx="973.3" cy="268.3" r="2.1"/><circle cx="1045.0" cy="264.5" r="2.1"/><circle cx="1033.0" cy="266.3" r="2.1"/><circle cx="1057.8" cy="266.3" r="2.1"/><circle cx="1051.7" cy="269.5" r="2.1"/><circle cx="1066.3" cy="265.5" r="2.1"/><circle cx="1084.2" cy="262.5" r="2.1"/><circle cx="1078.2" cy="269.2" r="2.1"/><circle cx="1083.2" cy="269.7" r="2.1"/><circle cx="1100.8" cy="264.5" r="2.1"/><circle cx="1093.2" cy="270.5" r="2.1"/><circle cx="1109.5" cy="272.2" r="2.1"/><circle cx="1132.0" cy="272.2" r="2.1"/><circle cx="1165.3" cy="269.2" r="2.1"/><circle cx="1006.7" cy="271.3" r="2.1"/><circle cx="1068.3" cy="274.5" r="2.1"/><circle cx="1078.3" cy="277.2" r="2.1"/><circle cx="1113.3" cy="279.2" r="2.1"/><circle cx="1032.5" cy="284.2" r="2.1"/><circle cx="1033.3" cy="285.8" r="2.1"/><circle cx="1069.5" cy="287.0" r="2.1"/><circle cx="1071.7" cy="289.2" r="2.1"/><circle cx="1084.2" cy="285.0" r="2.1"/><circle cx="1155.7" cy="294.7" r="2.1"/><circle cx="1245.8" cy="260.8" r="2.1"/></g><line x1="967.8" y1="203.3" x2="1243.3" y2="300.8" stroke="#222" stroke-width="1.8"/><path d="M956.9 51.5V300.8H1300.0" fill="none" stroke="#333" stroke-width="2.1"/><path d="M950.7 300.8H956.9M950.7 238.5H956.9M950.7 176.2H956.9M950.7 113.8H956.9M950.7 51.5H956.9M956.9 300.8V305.8M1025.5 300.8V305.8M1094.1 300.8V305.8M1162.8 300.8V305.8M1231.4 300.8V305.8M1300.0 300.8V305.8" fill="none" stroke="#333" stroke-width="2"/></g>
<g><text x="1378.7" y="306.2" text-anchor="end" font-size="20.4">0</text><text x="1378.7" y="223.1" text-anchor="end" font-size="20.4">40</text><text x="1378.7" y="140.0" text-anchor="end" font-size="20.4">80</text><text x="1378.7" y="56.9" text-anchor="end" font-size="20.4">120</text><text x="1396.2" y="328.9" text-anchor="middle" font-size="19.4" letter-spacing="-0.60">0</text><text x="1460.0" y="328.9" text-anchor="middle" font-size="19.4" letter-spacing="-0.60">2000</text><text x="1523.8" y="328.9" text-anchor="middle" font-size="19.4" letter-spacing="-0.60">4000</text><text x="1587.7" y="328.9" text-anchor="middle" font-size="19.4" letter-spacing="-0.60">6000</text><text x="1651.5" y="328.9" text-anchor="middle" font-size="19.4" letter-spacing="-0.60">8000</text><text x="1715.3" y="328.9" text-anchor="middle" font-size="19.4" letter-spacing="-0.60">10000</text><text x="1555.8" y="355.8" text-anchor="middle" font-size="19.7" xml:space="preserve">4-HNE  (pg/mL)</text><text transform="translate(1345.6 176.2) rotate(-90)" text-anchor="middle" font-size="20.6" xml:space="preserve">FEV1/FVC %</text><text x="1317.2" y="37.3" font-size="46.0">D</text><text x="1484.0" y="53.8" font-size="23.0" xml:space="preserve">r=-0.259, <tspan font-style="italic" dx="2.4">P</tspan><tspan fill="#888" font-size="20.5" dx="0.8" dy="-0.6">=</tspan><tspan dy="0.6" dx="0.2">0.002</tspan></text><g fill="#595959" stroke="#2b2b2b" stroke-width="1"><circle cx="1418.3" cy="101.1" r="2.85"/><circle cx="1446.5" cy="100.0" r="2.85"/><circle cx="1409.8" cy="110.3" r="2.85"/><circle cx="1414.5" cy="113.8" r="2.85"/><circle cx="1417.5" cy="108.2" r="2.85"/><circle cx="1410.6" cy="120.8" r="2.85"/><circle cx="1447.5" cy="114.6" r="2.85"/><circle cx="1481.4" cy="115.4" r="2.85"/><circle cx="1484.5" cy="120.8" r="2.85"/><circle cx="1503.4" cy="113.8" r="2.85"/><circle cx="1516.3" cy="114.6" r="2.85"/><circle cx="1509.8" cy="120.8" r="2.85"/><circle cx="1603.4" cy="122.6" r="2.85"/><circle cx="1487.5" cy="130.3" r="2.85"/><circle cx="1466.0" cy="130.3" r="2.85"/><circle cx="1472.9" cy="133.5" r="2.85"/><circle cx="1449.1" cy="132.6" r="2.85"/><circle cx="1413.2" cy="133.1" r="2.85"/><circle cx="1404.5" cy="135.8" r="2.85"/><circle cx="1409.8" cy="139.2" r="2.85"/><circle cx="1428.3" cy="133.1" r="2.85"/><circle cx="1426.0" cy="136.2" r="2.85"/><circle cx="1466.8" cy="136.9" r="2.85"/><circle cx="1462.9" cy="139.2" r="2.85"/><circle cx="1421.4" cy="145.1" r="2.85"/><circle cx="1467.1" cy="146.2" r="2.85"/><circle cx="1502.2" cy="143.1" r="2.85"/><circle cx="1508.3" cy="145.1" r="2.85"/><circle cx="1421.8" cy="154.9" r="2.85"/><circle cx="1471.1" cy="152.0" r="2.85"/><circle cx="1486.8" cy="151.8" r="2.85"/><circle cx="1492.9" cy="151.1" r="2.85"/><circle cx="1514.5" cy="153.1" r="2.85"/><circle cx="1519.1" cy="154.9" r="2.85"/><circle cx="1442.6" cy="160.0" r="2.85"/><circle cx="1465.2" cy="157.7" r="2.85"/><circle cx="1472.9" cy="160.8" r="2.85"/><circle cx="1484.8" cy="160.8" r="2.85"/><circle cx="1492.6" cy="158.9" r="2.85"/><circle cx="1439.8" cy="167.4" r="2.85"/><circle cx="1454.5" cy="171.2" r="2.85"/><circle cx="1474.5" cy="171.5" r="2.85"/><circle cx="1500.6" cy="170.5" r="2.85"/><circle cx="1449.8" cy="178.5" r="2.85"/><circle cx="1454.5" cy="180.0" r="2.85"/><circle cx="1457.5" cy="182.3" r="2.85"/><circle cx="1452.9" cy="183.8" r="2.85"/><circle cx="1457.5" cy="186.9" r="2.85"/><circle cx="1456.8" cy="190.0" r="2.85"/><circle cx="1529.8" cy="181.1" r="2.85"/><circle cx="1522.9" cy="186.2" r="2.85"/><circle cx="1559.4" cy="188.0" r="2.85"/><circle cx="1469.8" cy="183.8" r="2.85"/><circle cx="1477.5" cy="183.8" r="2.85"/><circle cx="1468.3" cy="188.5" r="2.85"/><circle cx="1472.9" cy="190.0" r="2.85"/><circle cx="1466.8" cy="192.3" r="2.85"/><circle cx="1474.5" cy="190.8" r="2.85"/><circle cx="1490.6" cy="186.2" r="2.85"/><circle cx="1491.4" cy="191.5" r="2.85"/><circle cx="1484.5" cy="190.8" r="2.85"/><circle cx="1499.1" cy="186.9" r="2.85"/><circle cx="1502.2" cy="188.5" r="2.85"/><circle cx="1499.1" cy="192.3" r="2.85"/><circle cx="1508.3" cy="190.0" r="2.85"/><circle cx="1434.8" cy="190.0" r="2.85"/><circle cx="1439.8" cy="194.3" r="2.85"/><circle cx="1447.5" cy="192.8" r="2.85"/><circle cx="1418.3" cy="194.2" r="2.85"/><circle cx="1516.0" cy="194.3" r="2.85"/><circle cx="1529.8" cy="196.2" r="2.85"/><circle cx="1541.4" cy="195.1" r="2.85"/><circle cx="1590.6" cy="198.8" r="2.85"/><circle cx="1507.2" cy="198.9" r="2.85"/><circle cx="1447.5" cy="201.2" r="2.85"/><circle cx="1441.8" cy="201.9" r="2.85"/><circle cx="1435.7" cy="205.8" r="2.85"/><circle cx="1431.7" cy="210.8" r="2.85"/><circle cx="1411.1" cy="212.7" r="2.85"/><circle cx="1419.1" cy="227.3" r="2.85"/><circle cx="1464.0" cy="200.0" r="2.85"/><circle cx="1460.6" cy="205.8" r="2.85"/><circle cx="1457.5" cy="209.6" r="2.85"/><circle cx="1453.7" cy="211.2" r="2.85"/><circle cx="1452.2" cy="213.5" r="2.85"/><circle cx="1459.8" cy="214.2" r="2.85"/><circle cx="1460.3" cy="220.4" r="2.85"/><circle cx="1472.2" cy="208.5" r="2.85"/><circle cx="1467.8" cy="214.7" r="2.85"/><circle cx="1466.8" cy="222.7" r="2.85"/><circle cx="1479.1" cy="201.2" r="2.85"/><circle cx="1485.2" cy="205.5" r="2.85"/><circle cx="1479.8" cy="213.5" r="2.85"/><circle cx="1484.5" cy="212.7" r="2.85"/><circle cx="1482.2" cy="217.3" r="2.85"/><circle cx="1477.5" cy="219.6" r="2.85"/><circle cx="1476.8" cy="222.7" r="2.85"/><circle cx="1475.7" cy="225.8" r="2.85"/><circle cx="1489.8" cy="217.3" r="2.85"/><circle cx="1494.5" cy="219.6" r="2.85"/><circle cx="1489.8" cy="223.5" r="2.85"/><circle cx="1501.4" cy="215.8" r="2.85"/><circle cx="1502.9" cy="204.2" r="2.85"/><circle cx="1506.0" cy="209.6" r="2.85"/><circle cx="1515.2" cy="207.3" r="2.85"/><circle cx="1518.3" cy="206.5" r="2.85"/><circle cx="1515.2" cy="215.8" r="2.85"/><circle cx="1512.9" cy="219.6" r="2.85"/><circle cx="1509.1" cy="227.8" r="2.85"/><circle cx="1513.7" cy="234.2" r="2.85"/><circle cx="1523.7" cy="201.2" r="2.85"/><circle cx="1534.5" cy="202.7" r="2.85"/><circle cx="1537.5" cy="210.8" r="2.85"/><circle cx="1545.2" cy="220.4" r="2.85"/><circle cx="1580.6" cy="219.3" r="2.85"/><circle cx="1437.5" cy="280.1" r="2.85"/><circle cx="1665.0" cy="189.3" r="2.85"/></g><g fill="#595959"><circle cx="1418.3" cy="101.1" r="2.1"/><circle cx="1446.5" cy="100.0" r="2.1"/><circle cx="1409.8" cy="110.3" r="2.1"/><circle cx="1414.5" cy="113.8" r="2.1"/><circle cx="1417.5" cy="108.2" r="2.1"/><circle cx="1410.6" cy="120.8" r="2.1"/><circle cx="1447.5" cy="114.6" r="2.1"/><circle cx="1481.4" cy="115.4" r="2.1"/><circle cx="1484.5" cy="120.8" r="2.1"/><circle cx="1503.4" cy="113.8" r="2.1"/><circle cx="1516.3" cy="114.6" r="2.1"/><circle cx="1509.8" cy="120.8" r="2.1"/><circle cx="1603.4" cy="122.6" r="2.1"/><circle cx="1487.5" cy="130.3" r="2.1"/><circle cx="1466.0" cy="130.3" r="2.1"/><circle cx="1472.9" cy="133.5" r="2.1"/><circle cx="1449.1" cy="132.6" r="2.1"/><circle cx="1413.2" cy="133.1" r="2.1"/><circle cx="1404.5" cy="135.8" r="2.1"/><circle cx="1409.8" cy="139.2" r="2.1"/><circle cx="1428.3" cy="133.1" r="2.1"/><circle cx="1426.0" cy="136.2" r="2.1"/><circle cx="1466.8" cy="136.9" r="2.1"/><circle cx="1462.9" cy="139.2" r="2.1"/><circle cx="1421.4" cy="145.1" r="2.1"/><circle cx="1467.1" cy="146.2" r="2.1"/><circle cx="1502.2" cy="143.1" r="2.1"/><circle cx="1508.3" cy="145.1" r="2.1"/><circle cx="1421.8" cy="154.9" r="2.1"/><circle cx="1471.1" cy="152.0" r="2.1"/><circle cx="1486.8" cy="151.8" r="2.1"/><circle cx="1492.9" cy="151.1" r="2.1"/><circle cx="1514.5" cy="153.1" r="2.1"/><circle cx="1519.1" cy="154.9" r="2.1"/><circle cx="1442.6" cy="160.0" r="2.1"/><circle cx="1465.2" cy="157.7" r="2.1"/><circle cx="1472.9" cy="160.8" r="2.1"/><circle cx="1484.8" cy="160.8" r="2.1"/><circle cx="1492.6" cy="158.9" r="2.1"/><circle cx="1439.8" cy="167.4" r="2.1"/><circle cx="1454.5" cy="171.2" r="2.1"/><circle cx="1474.5" cy="171.5" r="2.1"/><circle cx="1500.6" cy="170.5" r="2.1"/><circle cx="1449.8" cy="178.5" r="2.1"/><circle cx="1454.5" cy="180.0" r="2.1"/><circle cx="1457.5" cy="182.3" r="2.1"/><circle cx="1452.9" cy="183.8" r="2.1"/><circle cx="1457.5" cy="186.9" r="2.1"/><circle cx="1456.8" cy="190.0" r="2.1"/><circle cx="1529.8" cy="181.1" r="2.1"/><circle cx="1522.9" cy="186.2" r="2.1"/><circle cx="1559.4" cy="188.0" r="2.1"/><circle cx="1469.8" cy="183.8" r="2.1"/><circle cx="1477.5" cy="183.8" r="2.1"/><circle cx="1468.3" cy="188.5" r="2.1"/><circle cx="1472.9" cy="190.0" r="2.1"/><circle cx="1466.8" cy="192.3" r="2.1"/><circle cx="1474.5" cy="190.8" r="2.1"/><circle cx="1490.6" cy="186.2" r="2.1"/><circle cx="1491.4" cy="191.5" r="2.1"/><circle cx="1484.5" cy="190.8" r="2.1"/><circle cx="1499.1" cy="186.9" r="2.1"/><circle cx="1502.2" cy="188.5" r="2.1"/><circle cx="1499.1" cy="192.3" r="2.1"/><circle cx="1508.3" cy="190.0" r="2.1"/><circle cx="1434.8" cy="190.0" r="2.1"/><circle cx="1439.8" cy="194.3" r="2.1"/><circle cx="1447.5" cy="192.8" r="2.1"/><circle cx="1418.3" cy="194.2" r="2.1"/><circle cx="1516.0" cy="194.3" r="2.1"/><circle cx="1529.8" cy="196.2" r="2.1"/><circle cx="1541.4" cy="195.1" r="2.1"/><circle cx="1590.6" cy="198.8" r="2.1"/><circle cx="1507.2" cy="198.9" r="2.1"/><circle cx="1447.5" cy="201.2" r="2.1"/><circle cx="1441.8" cy="201.9" r="2.1"/><circle cx="1435.7" cy="205.8" r="2.1"/><circle cx="1431.7" cy="210.8" r="2.1"/><circle cx="1411.1" cy="212.7" r="2.1"/><circle cx="1419.1" cy="227.3" r="2.1"/><circle cx="1464.0" cy="200.0" r="2.1"/><circle cx="1460.6" cy="205.8" r="2.1"/><circle cx="1457.5" cy="209.6" r="2.1"/><circle cx="1453.7" cy="211.2" r="2.1"/><circle cx="1452.2" cy="213.5" r="2.1"/><circle cx="1459.8" cy="214.2" r="2.1"/><circle cx="1460.3" cy="220.4" r="2.1"/><circle cx="1472.2" cy="208.5" r="2.1"/><circle cx="1467.8" cy="214.7" r="2.1"/><circle cx="1466.8" cy="222.7" r="2.1"/><circle cx="1479.1" cy="201.2" r="2.1"/><circle cx="1485.2" cy="205.5" r="2.1"/><circle cx="1479.8" cy="213.5" r="2.1"/><circle cx="1484.5" cy="212.7" r="2.1"/><circle cx="1482.2" cy="217.3" r="2.1"/><circle cx="1477.5" cy="219.6" r="2.1"/><circle cx="1476.8" cy="222.7" r="2.1"/><circle cx="1475.7" cy="225.8" r="2.1"/><circle cx="1489.8" cy="217.3" r="2.1"/><circle cx="1494.5" cy="219.6" r="2.1"/><circle cx="1489.8" cy="223.5" r="2.1"/><circle cx="1501.4" cy="215.8" r="2.1"/><circle cx="1502.9" cy="204.2" r="2.1"/><circle cx="1506.0" cy="209.6" r="2.1"/><circle cx="1515.2" cy="207.3" r="2.1"/><circle cx="1518.3" cy="206.5" r="2.1"/><circle cx="1515.2" cy="215.8" r="2.1"/><circle cx="1512.9" cy="219.6" r="2.1"/><circle cx="1509.1" cy="227.8" r="2.1"/><circle cx="1513.7" cy="234.2" r="2.1"/><circle cx="1523.7" cy="201.2" r="2.1"/><circle cx="1534.5" cy="202.7" r="2.1"/><circle cx="1537.5" cy="210.8" r="2.1"/><circle cx="1545.2" cy="220.4" r="2.1"/><circle cx="1580.6" cy="219.3" r="2.1"/><circle cx="1437.5" cy="280.1" r="2.1"/><circle cx="1665.0" cy="189.3" r="2.1"/></g><line x1="1405.5" y1="165.1" x2="1665.0" y2="219.8" stroke="#222" stroke-width="1.8"/><path d="M1396.2 51.5V300.8H1715.3" fill="none" stroke="#333" stroke-width="2.1"/><path d="M1390.0 300.8H1396.2M1390.0 217.7H1396.2M1390.0 134.6H1396.2M1390.0 51.5H1396.2M1396.2 300.8V305.8M1460.0 300.8V305.8M1523.8 300.8V305.8M1587.7 300.8V305.8M1651.5 300.8V305.8M1715.3 300.8V305.8" fill="none" stroke="#333" stroke-width="2"/></g>
<g><text x="72.0" y="721.2" text-anchor="end" font-size="20.4">0</text><text x="72.0" y="659.0" text-anchor="end" font-size="20.4">50</text><text x="72.0" y="596.7" text-anchor="end" font-size="20.4">100</text><text x="72.0" y="534.5" text-anchor="end" font-size="20.4">150</text><text x="72.0" y="472.3" text-anchor="end" font-size="20.4">200</text><text x="89.5" y="743.9" text-anchor="middle" font-size="19.4" letter-spacing="-0.60">0</text><text x="153.5" y="743.9" text-anchor="middle" font-size="19.4" letter-spacing="-0.60">2000</text><text x="217.5" y="743.9" text-anchor="middle" font-size="19.4" letter-spacing="-0.60">4000</text><text x="281.5" y="743.9" text-anchor="middle" font-size="19.4" letter-spacing="-0.60">6000</text><text x="345.5" y="743.9" text-anchor="middle" font-size="19.4" letter-spacing="-0.60">8000</text><text x="409.5" y="743.9" text-anchor="middle" font-size="19.4" letter-spacing="-0.60">10000</text><text x="249.5" y="770.8" text-anchor="middle" font-size="19.7" xml:space="preserve">4-HNE  (pg/mL)</text><text transform="translate(28.5 591.4) rotate(-90)" text-anchor="middle" font-size="20.6" xml:space="preserve">MCP-1(pg/mL)</text><text x="6.4" y="451.5" font-size="46.0">E</text><text x="177.4" y="466.1" font-size="23.0" xml:space="preserve">r=0.615, <tspan font-style="italic" dx="2.4">P</tspan><tspan dx="-0.7"> </tspan><tspan font-size="20.0">&lt;</tspan> <tspan letter-spacing="-0.5">0.001</tspan></text><g fill="#595959" stroke="#2b2b2b" stroke-width="1"><circle cx="182.0" cy="490.3" r="2.85"/><circle cx="194.9" cy="487.4" r="2.85"/><circle cx="208.5" cy="510.0" r="2.85"/><circle cx="215.4" cy="517.2" r="2.85"/><circle cx="212.3" cy="522.8" r="2.85"/><circle cx="203.8" cy="521.5" r="2.85"/><circle cx="197.7" cy="528.5" r="2.85"/><circle cx="284.2" cy="517.7" r="2.85"/><circle cx="160.5" cy="526.5" r="2.85"/><circle cx="178.2" cy="538.2" r="2.85"/><circle cx="159.7" cy="540.0" r="2.85"/><circle cx="196.9" cy="543.1" r="2.85"/><circle cx="162.3" cy="546.9" r="2.85"/><circle cx="167.7" cy="546.9" r="2.85"/><circle cx="142.0" cy="550.8" r="2.85"/><circle cx="146.9" cy="554.6" r="2.85"/><circle cx="150.0" cy="558.5" r="2.85"/><circle cx="154.6" cy="558.5" r="2.85"/><circle cx="149.2" cy="560.8" r="2.85"/><circle cx="161.5" cy="558.5" r="2.85"/><circle cx="161.5" cy="563.1" r="2.85"/><circle cx="170.0" cy="554.6" r="2.85"/><circle cx="172.3" cy="559.2" r="2.85"/><circle cx="179.2" cy="553.8" r="2.85"/><circle cx="183.8" cy="552.3" r="2.85"/><circle cx="181.5" cy="556.2" r="2.85"/><circle cx="179.2" cy="560.0" r="2.85"/><circle cx="186.2" cy="558.5" r="2.85"/><circle cx="189.2" cy="560.0" r="2.85"/><circle cx="193.8" cy="552.3" r="2.85"/><circle cx="196.2" cy="555.4" r="2.85"/><circle cx="198.5" cy="557.7" r="2.85"/><circle cx="200.8" cy="560.8" r="2.85"/><circle cx="202.3" cy="550.5" r="2.85"/><circle cx="206.9" cy="551.5" r="2.85"/><circle cx="209.2" cy="553.8" r="2.85"/><circle cx="206.9" cy="556.9" r="2.85"/><circle cx="211.5" cy="556.2" r="2.85"/><circle cx="208.5" cy="558.5" r="2.85"/><circle cx="218.5" cy="552.8" r="2.85"/><circle cx="195.8" cy="565.7" r="2.85"/><circle cx="125.4" cy="564.3" r="2.85"/><circle cx="130.0" cy="565.4" r="2.85"/><circle cx="133.1" cy="567.7" r="2.85"/><circle cx="130.8" cy="568.5" r="2.85"/><circle cx="149.2" cy="565.4" r="2.85"/><circle cx="153.1" cy="569.2" r="2.85"/><circle cx="166.5" cy="570.5" r="2.85"/><circle cx="173.1" cy="570.8" r="2.85"/><circle cx="178.5" cy="568.5" r="2.85"/><circle cx="210.8" cy="569.2" r="2.85"/><circle cx="223.1" cy="567.7" r="2.85"/><circle cx="232.3" cy="564.3" r="2.85"/><circle cx="236.2" cy="564.9" r="2.85"/><circle cx="253.8" cy="562.8" r="2.85"/><circle cx="133.1" cy="574.6" r="2.85"/><circle cx="142.3" cy="573.4" r="2.85"/><circle cx="152.8" cy="578.5" r="2.85"/><circle cx="182.3" cy="582.3" r="2.85"/><circle cx="186.2" cy="580.0" r="2.85"/><circle cx="158.8" cy="585.4" r="2.85"/><circle cx="201.5" cy="585.4" r="2.85"/><circle cx="208.5" cy="587.2" r="2.85"/><circle cx="216.5" cy="584.3" r="2.85"/><circle cx="176.2" cy="587.7" r="2.85"/><circle cx="173.8" cy="593.1" r="2.85"/><circle cx="165.4" cy="592.3" r="2.85"/><circle cx="142.3" cy="593.8" r="2.85"/><circle cx="192.8" cy="590.8" r="2.85"/><circle cx="229.2" cy="593.1" r="2.85"/><circle cx="186.9" cy="595.1" r="2.85"/><circle cx="240.0" cy="595.4" r="2.85"/><circle cx="135.8" cy="598.9" r="2.85"/><circle cx="163.5" cy="601.1" r="2.85"/><circle cx="179.2" cy="600.5" r="2.85"/><circle cx="113.4" cy="609.2" r="2.85"/><circle cx="150.8" cy="608.5" r="2.85"/><circle cx="145.4" cy="611.5" r="2.85"/><circle cx="148.5" cy="613.8" r="2.85"/><circle cx="156.2" cy="615.4" r="2.85"/><circle cx="157.7" cy="617.4" r="2.85"/><circle cx="179.2" cy="610.5" r="2.85"/><circle cx="203.8" cy="607.7" r="2.85"/><circle cx="197.7" cy="611.5" r="2.85"/><circle cx="198.9" cy="616.5" r="2.85"/><circle cx="129.2" cy="619.5" r="2.85"/><circle cx="136.2" cy="617.4" r="2.85"/><circle cx="141.5" cy="617.7" r="2.85"/><circle cx="167.7" cy="618.2" r="2.85"/><circle cx="179.2" cy="619.2" r="2.85"/><circle cx="184.2" cy="621.5" r="2.85"/><circle cx="172.3" cy="622.3" r="2.85"/><circle cx="152.0" cy="621.5" r="2.85"/><circle cx="151.5" cy="624.6" r="2.85"/><circle cx="143.8" cy="624.6" r="2.85"/><circle cx="143.8" cy="627.7" r="2.85"/><circle cx="213.5" cy="621.5" r="2.85"/><circle cx="159.7" cy="627.2" r="2.85"/><circle cx="176.5" cy="627.4" r="2.85"/><circle cx="112.8" cy="627.2" r="2.85"/><circle cx="100.0" cy="631.8" r="2.85"/><circle cx="105.4" cy="631.5" r="2.85"/><circle cx="110.8" cy="632.3" r="2.85"/><circle cx="103.8" cy="636.2" r="2.85"/><circle cx="108.5" cy="635.4" r="2.85"/><circle cx="112.3" cy="639.2" r="2.85"/><circle cx="104.6" cy="640.8" r="2.85"/><circle cx="120.8" cy="631.8" r="2.85"/><circle cx="122.3" cy="633.5" r="2.85"/><circle cx="224.3" cy="630.3" r="2.85"/><circle cx="166.6" cy="633.1" r="2.85"/><circle cx="154.6" cy="636.2" r="2.85"/><circle cx="161.5" cy="639.2" r="2.85"/><circle cx="205.7" cy="635.1" r="2.85"/><circle cx="116.2" cy="651.2" r="2.85"/><circle cx="115.4" cy="653.8" r="2.85"/><circle cx="202.8" cy="651.8" r="2.85"/><circle cx="192.8" cy="665.4" r="2.85"/><circle cx="233.8" cy="664.6" r="2.85"/><circle cx="297.7" cy="664.6" r="2.85"/><circle cx="115.4" cy="671.2" r="2.85"/><circle cx="165.4" cy="669.2" r="2.85"/><circle cx="154.6" cy="675.1" r="2.85"/><circle cx="163.5" cy="676.9" r="2.85"/><circle cx="169.2" cy="678.5" r="2.85"/><circle cx="169.7" cy="680.8" r="2.85"/><circle cx="181.2" cy="686.9" r="2.85"/><circle cx="131.2" cy="688.0" r="2.85"/><circle cx="164.3" cy="690.8" r="2.85"/><circle cx="359.3" cy="536.0" r="2.85"/></g><g fill="#595959"><circle cx="182.0" cy="490.3" r="2.1"/><circle cx="194.9" cy="487.4" r="2.1"/><circle cx="208.5" cy="510.0" r="2.1"/><circle cx="215.4" cy="517.2" r="2.1"/><circle cx="212.3" cy="522.8" r="2.1"/><circle cx="203.8" cy="521.5" r="2.1"/><circle cx="197.7" cy="528.5" r="2.1"/><circle cx="284.2" cy="517.7" r="2.1"/><circle cx="160.5" cy="526.5" r="2.1"/><circle cx="178.2" cy="538.2" r="2.1"/><circle cx="159.7" cy="540.0" r="2.1"/><circle cx="196.9" cy="543.1" r="2.1"/><circle cx="162.3" cy="546.9" r="2.1"/><circle cx="167.7" cy="546.9" r="2.1"/><circle cx="142.0" cy="550.8" r="2.1"/><circle cx="146.9" cy="554.6" r="2.1"/><circle cx="150.0" cy="558.5" r="2.1"/><circle cx="154.6" cy="558.5" r="2.1"/><circle cx="149.2" cy="560.8" r="2.1"/><circle cx="161.5" cy="558.5" r="2.1"/><circle cx="161.5" cy="563.1" r="2.1"/><circle cx="170.0" cy="554.6" r="2.1"/><circle cx="172.3" cy="559.2" r="2.1"/><circle cx="179.2" cy="553.8" r="2.1"/><circle cx="183.8" cy="552.3" r="2.1"/><circle cx="181.5" cy="556.2" r="2.1"/><circle cx="179.2" cy="560.0" r="2.1"/><circle cx="186.2" cy="558.5" r="2.1"/><circle cx="189.2" cy="560.0" r="2.1"/><circle cx="193.8" cy="552.3" r="2.1"/><circle cx="196.2" cy="555.4" r="2.1"/><circle cx="198.5" cy="557.7" r="2.1"/><circle cx="200.8" cy="560.8" r="2.1"/><circle cx="202.3" cy="550.5" r="2.1"/><circle cx="206.9" cy="551.5" r="2.1"/><circle cx="209.2" cy="553.8" r="2.1"/><circle cx="206.9" cy="556.9" r="2.1"/><circle cx="211.5" cy="556.2" r="2.1"/><circle cx="208.5" cy="558.5" r="2.1"/><circle cx="218.5" cy="552.8" r="2.1"/><circle cx="195.8" cy="565.7" r="2.1"/><circle cx="125.4" cy="564.3" r="2.1"/><circle cx="130.0" cy="565.4" r="2.1"/><circle cx="133.1" cy="567.7" r="2.1"/><circle cx="130.8" cy="568.5" r="2.1"/><circle cx="149.2" cy="565.4" r="2.1"/><circle cx="153.1" cy="569.2" r="2.1"/><circle cx="166.5" cy="570.5" r="2.1"/><circle cx="173.1" cy="570.8" r="2.1"/><circle cx="178.5" cy="568.5" r="2.1"/><circle cx="210.8" cy="569.2" r="2.1"/><circle cx="223.1" cy="567.7" r="2.1"/><circle cx="232.3" cy="564.3" r="2.1"/><circle cx="236.2" cy="564.9" r="2.1"/><circle cx="253.8" cy="562.8" r="2.1"/><circle cx="133.1" cy="574.6" r="2.1"/><circle cx="142.3" cy="573.4" r="2.1"/><circle cx="152.8" cy="578.5" r="2.1"/><circle cx="182.3" cy="582.3" r="2.1"/><circle cx="186.2" cy="580.0" r="2.1"/><circle cx="158.8" cy="585.4" r="2.1"/><circle cx="201.5" cy="585.4" r="2.1"/><circle cx="208.5" cy="587.2" r="2.1"/><circle cx="216.5" cy="584.3" r="2.1"/><circle cx="176.2" cy="587.7" r="2.1"/><circle cx="173.8" cy="593.1" r="2.1"/><circle cx="165.4" cy="592.3" r="2.1"/><circle cx="142.3" cy="593.8" r="2.1"/><circle cx="192.8" cy="590.8" r="2.1"/><circle cx="229.2" cy="593.1" r="2.1"/><circle cx="186.9" cy="595.1" r="2.1"/><circle cx="240.0" cy="595.4" r="2.1"/><circle cx="135.8" cy="598.9" r="2.1"/><circle cx="163.5" cy="601.1" r="2.1"/><circle cx="179.2" cy="600.5" r="2.1"/><circle cx="113.4" cy="609.2" r="2.1"/><circle cx="150.8" cy="608.5" r="2.1"/><circle cx="145.4" cy="611.5" r="2.1"/><circle cx="148.5" cy="613.8" r="2.1"/><circle cx="156.2" cy="615.4" r="2.1"/><circle cx="157.7" cy="617.4" r="2.1"/><circle cx="179.2" cy="610.5" r="2.1"/><circle cx="203.8" cy="607.7" r="2.1"/><circle cx="197.7" cy="611.5" r="2.1"/><circle cx="198.9" cy="616.5" r="2.1"/><circle cx="129.2" cy="619.5" r="2.1"/><circle cx="136.2" cy="617.4" r="2.1"/><circle cx="141.5" cy="617.7" r="2.1"/><circle cx="167.7" cy="618.2" r="2.1"/><circle cx="179.2" cy="619.2" r="2.1"/><circle cx="184.2" cy="621.5" r="2.1"/><circle cx="172.3" cy="622.3" r="2.1"/><circle cx="152.0" cy="621.5" r="2.1"/><circle cx="151.5" cy="624.6" r="2.1"/><circle cx="143.8" cy="624.6" r="2.1"/><circle cx="143.8" cy="627.7" r="2.1"/><circle cx="213.5" cy="621.5" r="2.1"/><circle cx="159.7" cy="627.2" r="2.1"/><circle cx="176.5" cy="627.4" r="2.1"/><circle cx="112.8" cy="627.2" r="2.1"/><circle cx="100.0" cy="631.8" r="2.1"/><circle cx="105.4" cy="631.5" r="2.1"/><circle cx="110.8" cy="632.3" r="2.1"/><circle cx="103.8" cy="636.2" r="2.1"/><circle cx="108.5" cy="635.4" r="2.1"/><circle cx="112.3" cy="639.2" r="2.1"/><circle cx="104.6" cy="640.8" r="2.1"/><circle cx="120.8" cy="631.8" r="2.1"/><circle cx="122.3" cy="633.5" r="2.1"/><circle cx="224.3" cy="630.3" r="2.1"/><circle cx="166.6" cy="633.1" r="2.1"/><circle cx="154.6" cy="636.2" r="2.1"/><circle cx="161.5" cy="639.2" r="2.1"/><circle cx="205.7" cy="635.1" r="2.1"/><circle cx="116.2" cy="651.2" r="2.1"/><circle cx="115.4" cy="653.8" r="2.1"/><circle cx="202.8" cy="651.8" r="2.1"/><circle cx="192.8" cy="665.4" r="2.1"/><circle cx="233.8" cy="664.6" r="2.1"/><circle cx="297.7" cy="664.6" r="2.1"/><circle cx="115.4" cy="671.2" r="2.1"/><circle cx="165.4" cy="669.2" r="2.1"/><circle cx="154.6" cy="675.1" r="2.1"/><circle cx="163.5" cy="676.9" r="2.1"/><circle cx="169.2" cy="678.5" r="2.1"/><circle cx="169.7" cy="680.8" r="2.1"/><circle cx="181.2" cy="686.9" r="2.1"/><circle cx="131.2" cy="688.0" r="2.1"/><circle cx="164.3" cy="690.8" r="2.1"/><circle cx="359.3" cy="536.0" r="2.1"/></g><line x1="100.0" y1="620.0" x2="359.3" y2="515.9" stroke="#222" stroke-width="1.8"/><path d="M89.5 466.9V715.8H409.5" fill="none" stroke="#333" stroke-width="2.1"/><path d="M83.3 715.8H89.5M83.3 653.6H89.5M83.3 591.3H89.5M83.3 529.1H89.5M83.3 466.9H89.5M89.5 715.8V720.8M153.5 715.8V720.8M217.5 715.8V720.8M281.5 715.8V720.8M345.5 715.8V720.8M409.5 715.8V720.8" fill="none" stroke="#333" stroke-width="2"/></g>
<g><text x="495.6" y="721.2" text-anchor="end" font-size="20.4">0</text><text x="495.6" y="659.0" text-anchor="end" font-size="20.4">50</text><text x="495.6" y="596.7" text-anchor="end" font-size="20.4">100</text><text x="495.6" y="534.5" text-anchor="end" font-size="20.4">150</text><text x="495.6" y="472.3" text-anchor="end" font-size="20.4">200</text><text x="513.1" y="743.9" text-anchor="middle" font-size="19.4" letter-spacing="-0.60">0</text><text x="577.0" y="743.9" text-anchor="middle" font-size="19.4" letter-spacing="-0.60">2000</text><text x="640.9" y="743.9" text-anchor="middle" font-size="19.4" letter-spacing="-0.60">4000</text><text x="704.7" y="743.9" text-anchor="middle" font-size="19.4" letter-spacing="-0.60">6000</text><text x="768.6" y="743.9" text-anchor="middle" font-size="19.4" letter-spacing="-0.60">8000</text><text x="832.5" y="743.9" text-anchor="middle" font-size="19.4" letter-spacing="-0.60">10000</text><text x="672.8" y="770.8" text-anchor="middle" font-size="19.7" xml:space="preserve">4-HNE  (pg/mL)</text><text transform="translate(452.3 591.4) rotate(-90)" text-anchor="middle" font-size="20.6" xml:space="preserve">TNF-α (pg/mL)</text><text x="446.9" y="451.5" font-size="46.0">F</text><text x="595.8" y="466.1" font-size="23.0" xml:space="preserve">r=0.433, <tspan font-style="italic" dx="2.4">P</tspan><tspan dx="-0.7"> </tspan><tspan font-size="20.0">&lt;</tspan> <tspan letter-spacing="-0.5">0.001</tspan></text><g fill="#595959" stroke="#2b2b2b" stroke-width="1"><circle cx="697.3" cy="493.4" r="2.85"/><circle cx="583.8" cy="506.9" r="2.85"/><circle cx="556.4" cy="516.9" r="2.85"/><circle cx="616.8" cy="510.0" r="2.85"/><circle cx="625.8" cy="513.1" r="2.85"/><circle cx="631.9" cy="513.1" r="2.85"/><circle cx="618.1" cy="520.8" r="2.85"/><circle cx="582.7" cy="529.7" r="2.85"/><circle cx="577.6" cy="534.6" r="2.85"/><circle cx="618.8" cy="529.7" r="2.85"/><circle cx="549.5" cy="535.4" r="2.85"/><circle cx="553.3" cy="544.3" r="2.85"/><circle cx="658.1" cy="536.2" r="2.85"/><circle cx="676.8" cy="538.5" r="2.85"/><circle cx="707.2" cy="539.2" r="2.85"/><circle cx="600.2" cy="544.2" r="2.85"/><circle cx="606.4" cy="543.4" r="2.85"/><circle cx="625.8" cy="543.4" r="2.85"/><circle cx="632.7" cy="540.5" r="2.85"/><circle cx="618.8" cy="555.1" r="2.85"/><circle cx="603.5" cy="558.8" r="2.85"/><circle cx="655.3" cy="560.8" r="2.85"/><circle cx="646.5" cy="564.9" r="2.85"/><circle cx="565.3" cy="567.7" r="2.85"/><circle cx="583.8" cy="564.6" r="2.85"/><circle cx="588.4" cy="564.9" r="2.85"/><circle cx="584.5" cy="566.9" r="2.85"/><circle cx="555.3" cy="579.2" r="2.85"/><circle cx="573.0" cy="580.0" r="2.85"/><circle cx="575.3" cy="583.8" r="2.85"/><circle cx="569.9" cy="586.2" r="2.85"/><circle cx="594.5" cy="578.5" r="2.85"/><circle cx="621.8" cy="580.3" r="2.85"/><circle cx="629.9" cy="579.2" r="2.85"/><circle cx="628.7" cy="585.4" r="2.85"/><circle cx="635.6" cy="588.2" r="2.85"/><circle cx="661.9" cy="578.5" r="2.85"/><circle cx="527.9" cy="592.8" r="2.85"/><circle cx="576.8" cy="591.5" r="2.85"/><circle cx="577.6" cy="594.6" r="2.85"/><circle cx="573.0" cy="596.9" r="2.85"/><circle cx="585.8" cy="594.2" r="2.85"/><circle cx="614.5" cy="592.8" r="2.85"/><circle cx="612.2" cy="595.8" r="2.85"/><circle cx="623.8" cy="591.8" r="2.85"/><circle cx="620.7" cy="598.2" r="2.85"/><circle cx="633.8" cy="600.8" r="2.85"/><circle cx="556.4" cy="604.6" r="2.85"/><circle cx="564.5" cy="610.4" r="2.85"/><circle cx="568.4" cy="612.7" r="2.85"/><circle cx="577.9" cy="611.5" r="2.85"/><circle cx="594.5" cy="609.6" r="2.85"/><circle cx="607.2" cy="609.6" r="2.85"/><circle cx="641.5" cy="609.6" r="2.85"/><circle cx="552.5" cy="616.5" r="2.85"/><circle cx="599.2" cy="616.5" r="2.85"/><circle cx="601.5" cy="618.1" r="2.85"/><circle cx="631.5" cy="621.5" r="2.85"/><circle cx="587.6" cy="626.2" r="2.85"/><circle cx="602.2" cy="628.8" r="2.85"/><circle cx="605.3" cy="630.4" r="2.85"/><circle cx="609.2" cy="632.7" r="2.85"/><circle cx="591.5" cy="633.0" r="2.85"/><circle cx="624.8" cy="633.0" r="2.85"/><circle cx="631.8" cy="635.3" r="2.85"/><circle cx="536.8" cy="635.8" r="2.85"/><circle cx="608.4" cy="635.8" r="2.85"/><circle cx="606.1" cy="638.8" r="2.85"/><circle cx="603.8" cy="641.2" r="2.85"/><circle cx="581.5" cy="636.5" r="2.85"/><circle cx="585.3" cy="638.8" r="2.85"/><circle cx="596.1" cy="639.6" r="2.85"/><circle cx="616.1" cy="640.8" r="2.85"/><circle cx="657.2" cy="639.9" r="2.85"/><circle cx="601.2" cy="644.5" r="2.85"/><circle cx="625.0" cy="643.9" r="2.85"/><circle cx="719.9" cy="647.8" r="2.85"/><circle cx="559.2" cy="642.7" r="2.85"/><circle cx="559.2" cy="646.5" r="2.85"/><circle cx="563.8" cy="644.2" r="2.85"/><circle cx="569.2" cy="645.0" r="2.85"/><circle cx="574.5" cy="641.9" r="2.85"/><circle cx="576.1" cy="645.8" r="2.85"/><circle cx="573.0" cy="647.3" r="2.85"/><circle cx="534.5" cy="645.8" r="2.85"/><circle cx="533.0" cy="647.3" r="2.85"/><circle cx="586.1" cy="645.8" r="2.85"/><circle cx="589.9" cy="645.0" r="2.85"/><circle cx="593.0" cy="648.8" r="2.85"/><circle cx="585.3" cy="649.6" r="2.85"/><circle cx="589.2" cy="651.2" r="2.85"/><circle cx="591.5" cy="652.7" r="2.85"/><circle cx="586.8" cy="653.5" r="2.85"/><circle cx="608.4" cy="647.3" r="2.85"/><circle cx="629.9" cy="648.1" r="2.85"/><circle cx="636.1" cy="645.8" r="2.85"/><circle cx="619.9" cy="650.4" r="2.85"/><circle cx="609.9" cy="654.2" r="2.85"/><circle cx="523.0" cy="652.7" r="2.85"/><circle cx="538.8" cy="652.7" r="2.85"/><circle cx="564.2" cy="653.5" r="2.85"/><circle cx="573.0" cy="654.2" r="2.85"/><circle cx="579.6" cy="652.7" r="2.85"/><circle cx="598.4" cy="654.2" r="2.85"/><circle cx="601.5" cy="655.8" r="2.85"/><circle cx="596.1" cy="658.1" r="2.85"/><circle cx="593.0" cy="659.6" r="2.85"/><circle cx="625.8" cy="654.2" r="2.85"/><circle cx="620.7" cy="657.3" r="2.85"/><circle cx="632.7" cy="655.8" r="2.85"/><circle cx="639.5" cy="654.7" r="2.85"/><circle cx="647.3" cy="656.5" r="2.85"/><circle cx="526.8" cy="659.6" r="2.85"/><circle cx="529.9" cy="663.5" r="2.85"/><circle cx="534.5" cy="665.8" r="2.85"/><circle cx="539.2" cy="666.5" r="2.85"/><circle cx="544.8" cy="660.7" r="2.85"/><circle cx="566.8" cy="659.6" r="2.85"/><circle cx="570.7" cy="661.2" r="2.85"/><circle cx="566.8" cy="663.5" r="2.85"/><circle cx="589.2" cy="661.2" r="2.85"/><circle cx="586.8" cy="663.5" r="2.85"/><circle cx="583.0" cy="666.1" r="2.85"/><circle cx="602.2" cy="663.5" r="2.85"/><circle cx="601.5" cy="666.5" r="2.85"/><circle cx="626.5" cy="668.5" r="2.85"/><circle cx="652.2" cy="671.2" r="2.85"/><circle cx="531.5" cy="670.4" r="2.85"/><circle cx="542.2" cy="673.5" r="2.85"/><circle cx="553.3" cy="675.0" r="2.85"/><circle cx="526.8" cy="680.1" r="2.85"/><circle cx="781.6" cy="518.6" r="2.85"/></g><g fill="#595959"><circle cx="697.3" cy="493.4" r="2.1"/><circle cx="583.8" cy="506.9" r="2.1"/><circle cx="556.4" cy="516.9" r="2.1"/><circle cx="616.8" cy="510.0" r="2.1"/><circle cx="625.8" cy="513.1" r="2.1"/><circle cx="631.9" cy="513.1" r="2.1"/><circle cx="618.1" cy="520.8" r="2.1"/><circle cx="582.7" cy="529.7" r="2.1"/><circle cx="577.6" cy="534.6" r="2.1"/><circle cx="618.8" cy="529.7" r="2.1"/><circle cx="549.5" cy="535.4" r="2.1"/><circle cx="553.3" cy="544.3" r="2.1"/><circle cx="658.1" cy="536.2" r="2.1"/><circle cx="676.8" cy="538.5" r="2.1"/><circle cx="707.2" cy="539.2" r="2.1"/><circle cx="600.2" cy="544.2" r="2.1"/><circle cx="606.4" cy="543.4" r="2.1"/><circle cx="625.8" cy="543.4" r="2.1"/><circle cx="632.7" cy="540.5" r="2.1"/><circle cx="618.8" cy="555.1" r="2.1"/><circle cx="603.5" cy="558.8" r="2.1"/><circle cx="655.3" cy="560.8" r="2.1"/><circle cx="646.5" cy="564.9" r="2.1"/><circle cx="565.3" cy="567.7" r="2.1"/><circle cx="583.8" cy="564.6" r="2.1"/><circle cx="588.4" cy="564.9" r="2.1"/><circle cx="584.5" cy="566.9" r="2.1"/><circle cx="555.3" cy="579.2" r="2.1"/><circle cx="573.0" cy="580.0" r="2.1"/><circle cx="575.3" cy="583.8" r="2.1"/><circle cx="569.9" cy="586.2" r="2.1"/><circle cx="594.5" cy="578.5" r="2.1"/><circle cx="621.8" cy="580.3" r="2.1"/><circle cx="629.9" cy="579.2" r="2.1"/><circle cx="628.7" cy="585.4" r="2.1"/><circle cx="635.6" cy="588.2" r="2.1"/><circle cx="661.9" cy="578.5" r="2.1"/><circle cx="527.9" cy="592.8" r="2.1"/><circle cx="576.8" cy="591.5" r="2.1"/><circle cx="577.6" cy="594.6" r="2.1"/><circle cx="573.0" cy="596.9" r="2.1"/><circle cx="585.8" cy="594.2" r="2.1"/><circle cx="614.5" cy="592.8" r="2.1"/><circle cx="612.2" cy="595.8" r="2.1"/><circle cx="623.8" cy="591.8" r="2.1"/><circle cx="620.7" cy="598.2" r="2.1"/><circle cx="633.8" cy="600.8" r="2.1"/><circle cx="556.4" cy="604.6" r="2.1"/><circle cx="564.5" cy="610.4" r="2.1"/><circle cx="568.4" cy="612.7" r="2.1"/><circle cx="577.9" cy="611.5" r="2.1"/><circle cx="594.5" cy="609.6" r="2.1"/><circle cx="607.2" cy="609.6" r="2.1"/><circle cx="641.5" cy="609.6" r="2.1"/><circle cx="552.5" cy="616.5" r="2.1"/><circle cx="599.2" cy="616.5" r="2.1"/><circle cx="601.5" cy="618.1" r="2.1"/><circle cx="631.5" cy="621.5" r="2.1"/><circle cx="587.6" cy="626.2" r="2.1"/><circle cx="602.2" cy="628.8" r="2.1"/><circle cx="605.3" cy="630.4" r="2.1"/><circle cx="609.2" cy="632.7" r="2.1"/><circle cx="591.5" cy="633.0" r="2.1"/><circle cx="624.8" cy="633.0" r="2.1"/><circle cx="631.8" cy="635.3" r="2.1"/><circle cx="536.8" cy="635.8" r="2.1"/><circle cx="608.4" cy="635.8" r="2.1"/><circle cx="606.1" cy="638.8" r="2.1"/><circle cx="603.8" cy="641.2" r="2.1"/><circle cx="581.5" cy="636.5" r="2.1"/><circle cx="585.3" cy="638.8" r="2.1"/><circle cx="596.1" cy="639.6" r="2.1"/><circle cx="616.1" cy="640.8" r="2.1"/><circle cx="657.2" cy="639.9" r="2.1"/><circle cx="601.2" cy="644.5" r="2.1"/><circle cx="625.0" cy="643.9" r="2.1"/><circle cx="719.9" cy="647.8" r="2.1"/><circle cx="559.2" cy="642.7" r="2.1"/><circle cx="559.2" cy="646.5" r="2.1"/><circle cx="563.8" cy="644.2" r="2.1"/><circle cx="569.2" cy="645.0" r="2.1"/><circle cx="574.5" cy="641.9" r="2.1"/><circle cx="576.1" cy="645.8" r="2.1"/><circle cx="573.0" cy="647.3" r="2.1"/><circle cx="534.5" cy="645.8" r="2.1"/><circle cx="533.0" cy="647.3" r="2.1"/><circle cx="586.1" cy="645.8" r="2.1"/><circle cx="589.9" cy="645.0" r="2.1"/><circle cx="593.0" cy="648.8" r="2.1"/><circle cx="585.3" cy="649.6" r="2.1"/><circle cx="589.2" cy="651.2" r="2.1"/><circle cx="591.5" cy="652.7" r="2.1"/><circle cx="586.8" cy="653.5" r="2.1"/><circle cx="608.4" cy="647.3" r="2.1"/><circle cx="629.9" cy="648.1" r="2.1"/><circle cx="636.1" cy="645.8" r="2.1"/><circle cx="619.9" cy="650.4" r="2.1"/><circle cx="609.9" cy="654.2" r="2.1"/><circle cx="523.0" cy="652.7" r="2.1"/><circle cx="538.8" cy="652.7" r="2.1"/><circle cx="564.2" cy="653.5" r="2.1"/><circle cx="573.0" cy="654.2" r="2.1"/><circle cx="579.6" cy="652.7" r="2.1"/><circle cx="598.4" cy="654.2" r="2.1"/><circle cx="601.5" cy="655.8" r="2.1"/><circle cx="596.1" cy="658.1" r="2.1"/><circle cx="593.0" cy="659.6" r="2.1"/><circle cx="625.8" cy="654.2" r="2.1"/><circle cx="620.7" cy="657.3" r="2.1"/><circle cx="632.7" cy="655.8" r="2.1"/><circle cx="639.5" cy="654.7" r="2.1"/><circle cx="647.3" cy="656.5" r="2.1"/><circle cx="526.8" cy="659.6" r="2.1"/><circle cx="529.9" cy="663.5" r="2.1"/><circle cx="534.5" cy="665.8" r="2.1"/><circle cx="539.2" cy="666.5" r="2.1"/><circle cx="544.8" cy="660.7" r="2.1"/><circle cx="566.8" cy="659.6" r="2.1"/><circle cx="570.7" cy="661.2" r="2.1"/><circle cx="566.8" cy="663.5" r="2.1"/><circle cx="589.2" cy="661.2" r="2.1"/><circle cx="586.8" cy="663.5" r="2.1"/><circle cx="583.0" cy="666.1" r="2.1"/><circle cx="602.2" cy="663.5" r="2.1"/><circle cx="601.5" cy="666.5" r="2.1"/><circle cx="626.5" cy="668.5" r="2.1"/><circle cx="652.2" cy="671.2" r="2.1"/><circle cx="531.5" cy="670.4" r="2.1"/><circle cx="542.2" cy="673.5" r="2.1"/><circle cx="553.3" cy="675.0" r="2.1"/><circle cx="526.8" cy="680.1" r="2.1"/><circle cx="781.6" cy="518.6" r="2.1"/></g><line x1="522.2" y1="644.2" x2="782.5" y2="539.5" stroke="#222" stroke-width="1.8"/><path d="M513.1 466.9V715.8H832.5" fill="none" stroke="#333" stroke-width="2.1"/><path d="M506.9 715.8H513.1M506.9 653.6H513.1M506.9 591.3H513.1M506.9 529.1H513.1M506.9 466.9H513.1M513.1 715.8V720.8M577.0 715.8V720.8M640.9 715.8V720.8M704.7 715.8V720.8M768.6 715.8V720.8M832.5 715.8V720.8" fill="none" stroke="#333" stroke-width="2"/></g>
<g><text x="939.1" y="721.2" text-anchor="end" font-size="20.4">0</text><text x="939.1" y="659.0" text-anchor="end" font-size="20.4">50</text><text x="939.1" y="596.7" text-anchor="end" font-size="20.4">100</text><text x="939.1" y="534.5" text-anchor="end" font-size="20.4">150</text><text x="939.1" y="472.3" text-anchor="end" font-size="20.4">200</text><text x="956.6" y="743.9" text-anchor="middle" font-size="19.4" letter-spacing="-0.60">0</text><text x="1020.3" y="743.9" text-anchor="middle" font-size="19.4" letter-spacing="-0.60">2000</text><text x="1084.1" y="743.9" text-anchor="middle" font-size="19.4" letter-spacing="-0.60">4000</text><text x="1147.8" y="743.9" text-anchor="middle" font-size="19.4" letter-spacing="-0.60">6000</text><text x="1211.6" y="743.9" text-anchor="middle" font-size="19.4" letter-spacing="-0.60">8000</text><text x="1275.3" y="743.9" text-anchor="middle" font-size="19.4" letter-spacing="-0.60">10000</text><text x="1116.0" y="770.8" text-anchor="middle" font-size="19.7" xml:space="preserve">4-HNE  (pg/mL)</text><text transform="translate(895.1 591.4) rotate(-90)" text-anchor="middle" font-size="20.6" xml:space="preserve">IL-6 (pg/mL)</text><text x="873.4" y="451.5" font-size="46.0">G</text><text x="1049.2" y="466.1" font-size="23.0" xml:space="preserve">r=0.124, <tspan font-style="italic" dx="2.4">P</tspan><tspan fill="#888" font-size="20.5" dx="0.8" dy="-0.6">=</tspan><tspan dy="0.6" dx="0.2">0.043</tspan></text><g fill="#595959" stroke="#2b2b2b" stroke-width="1"><circle cx="1030.4" cy="526.6" r="2.85"/><circle cx="1068.5" cy="519.7" r="2.85"/><circle cx="1011.6" cy="542.3" r="2.85"/><circle cx="1069.6" cy="551.1" r="2.85"/><circle cx="1120.4" cy="590.0" r="2.85"/><circle cx="1225.0" cy="616.6" r="2.85"/><circle cx="1048.1" cy="617.3" r="2.85"/><circle cx="1070.5" cy="622.4" r="2.85"/><circle cx="974.4" cy="629.2" r="2.85"/><circle cx="1075.2" cy="645.8" r="2.85"/><circle cx="981.2" cy="652.7" r="2.85"/><circle cx="1038.2" cy="656.5" r="2.85"/><circle cx="1014.7" cy="662.4" r="2.85"/><circle cx="1100.8" cy="660.4" r="2.85"/><circle cx="1061.6" cy="663.2" r="2.85"/><circle cx="1064.7" cy="669.3" r="2.85"/><circle cx="1150.8" cy="659.6" r="2.85"/><circle cx="1163.6" cy="663.2" r="2.85"/><circle cx="993.2" cy="672.2" r="2.85"/><circle cx="1045.5" cy="670.4" r="2.85"/><circle cx="1041.9" cy="674.2" r="2.85"/><circle cx="1053.9" cy="679.9" r="2.85"/><circle cx="1065.5" cy="678.1" r="2.85"/><circle cx="1076.2" cy="679.3" r="2.85"/><circle cx="1082.4" cy="675.0" r="2.85"/><circle cx="1083.2" cy="678.1" r="2.85"/><circle cx="986.2" cy="683.9" r="2.85"/><circle cx="998.8" cy="685.8" r="2.85"/><circle cx="1028.5" cy="687.3" r="2.85"/><circle cx="1027.0" cy="690.4" r="2.85"/><circle cx="1038.2" cy="683.5" r="2.85"/><circle cx="1038.5" cy="688.1" r="2.85"/><circle cx="1051.6" cy="688.8" r="2.85"/><circle cx="1059.0" cy="692.7" r="2.85"/><circle cx="1074.7" cy="692.7" r="2.85"/><circle cx="1073.2" cy="694.2" r="2.85"/><circle cx="980.4" cy="692.7" r="2.85"/><circle cx="995.5" cy="695.5" r="2.85"/><circle cx="1003.2" cy="695.5" r="2.85"/><circle cx="1018.5" cy="695.8" r="2.85"/><circle cx="1025.5" cy="695.8" r="2.85"/><circle cx="1029.3" cy="692.7" r="2.85"/><circle cx="980.1" cy="699.6" r="2.85"/><circle cx="983.9" cy="699.2" r="2.85"/><circle cx="1101.6" cy="698.1" r="2.85"/><circle cx="1105.5" cy="696.5" r="2.85"/><circle cx="1000.1" cy="701.6" r="2.85"/><circle cx="1010.8" cy="701.2" r="2.85"/><circle cx="1028.2" cy="702.7" r="2.85"/><circle cx="1048.1" cy="701.5" r="2.85"/><circle cx="971.2" cy="707.5" r="2.85"/><circle cx="967.1" cy="712.0" r="2.85"/><circle cx="975.3" cy="711.1" r="2.85"/><circle cx="979.0" cy="713.9" r="2.85"/><circle cx="982.6" cy="714.8" r="2.85"/><circle cx="966.2" cy="714.8" r="2.85"/><circle cx="977.1" cy="716.2" r="2.85"/><circle cx="988.1" cy="714.8" r="2.85"/><circle cx="1000.0" cy="711.1" r="2.85"/><circle cx="1007.4" cy="708.4" r="2.85"/><circle cx="1016.5" cy="704.7" r="2.85"/><circle cx="1013.8" cy="709.3" r="2.85"/><circle cx="1019.3" cy="707.5" r="2.85"/><circle cx="1021.1" cy="711.1" r="2.85"/><circle cx="1015.6" cy="713.0" r="2.85"/><circle cx="1020.2" cy="714.8" r="2.85"/><circle cx="1023.8" cy="710.2" r="2.85"/><circle cx="1012.9" cy="714.8" r="2.85"/><circle cx="1024.8" cy="713.9" r="2.85"/><circle cx="1017.5" cy="711.0" r="2.85"/><circle cx="1033.0" cy="708.4" r="2.85"/><circle cx="1035.8" cy="711.1" r="2.85"/><circle cx="1032.1" cy="713.0" r="2.85"/><circle cx="1034.8" cy="715.3" r="2.85"/><circle cx="1038.5" cy="713.0" r="2.85"/><circle cx="1044.0" cy="708.4" r="2.85"/><circle cx="1047.2" cy="710.2" r="2.85"/><circle cx="1052.7" cy="710.2" r="2.85"/><circle cx="1044.9" cy="713.9" r="2.85"/><circle cx="1050.4" cy="714.8" r="2.85"/><circle cx="1063.2" cy="712.0" r="2.85"/><circle cx="1066.9" cy="710.2" r="2.85"/><circle cx="1068.7" cy="714.8" r="2.85"/><circle cx="1062.3" cy="715.7" r="2.85"/><circle cx="1079.3" cy="712.0" r="2.85"/><circle cx="1090.7" cy="714.8" r="2.85"/><circle cx="1098.5" cy="714.8" r="2.85"/><circle cx="1090.1" cy="706.5" r="2.85"/></g><g fill="#595959"><circle cx="1030.4" cy="526.6" r="2.1"/><circle cx="1068.5" cy="519.7" r="2.1"/><circle cx="1011.6" cy="542.3" r="2.1"/><circle cx="1069.6" cy="551.1" r="2.1"/><circle cx="1120.4" cy="590.0" r="2.1"/><circle cx="1225.0" cy="616.6" r="2.1"/><circle cx="1048.1" cy="617.3" r="2.1"/><circle cx="1070.5" cy="622.4" r="2.1"/><circle cx="974.4" cy="629.2" r="2.1"/><circle cx="1075.2" cy="645.8" r="2.1"/><circle cx="981.2" cy="652.7" r="2.1"/><circle cx="1038.2" cy="656.5" r="2.1"/><circle cx="1014.7" cy="662.4" r="2.1"/><circle cx="1100.8" cy="660.4" r="2.1"/><circle cx="1061.6" cy="663.2" r="2.1"/><circle cx="1064.7" cy="669.3" r="2.1"/><circle cx="1150.8" cy="659.6" r="2.1"/><circle cx="1163.6" cy="663.2" r="2.1"/><circle cx="993.2" cy="672.2" r="2.1"/><circle cx="1045.5" cy="670.4" r="2.1"/><circle cx="1041.9" cy="674.2" r="2.1"/><circle cx="1053.9" cy="679.9" r="2.1"/><circle cx="1065.5" cy="678.1" r="2.1"/><circle cx="1076.2" cy="679.3" r="2.1"/><circle cx="1082.4" cy="675.0" r="2.1"/><circle cx="1083.2" cy="678.1" r="2.1"/><circle cx="986.2" cy="683.9" r="2.1"/><circle cx="998.8" cy="685.8" r="2.1"/><circle cx="1028.5" cy="687.3" r="2.1"/><circle cx="1027.0" cy="690.4" r="2.1"/><circle cx="1038.2" cy="683.5" r="2.1"/><circle cx="1038.5" cy="688.1" r="2.1"/><circle cx="1051.6" cy="688.8" r="2.1"/><circle cx="1059.0" cy="692.7" r="2.1"/><circle cx="1074.7" cy="692.7" r="2.1"/><circle cx="1073.2" cy="694.2" r="2.1"/><circle cx="980.4" cy="692.7" r="2.1"/><circle cx="995.5" cy="695.5" r="2.1"/><circle cx="1003.2" cy="695.5" r="2.1"/><circle cx="1018.5" cy="695.8" r="2.1"/><circle cx="1025.5" cy="695.8" r="2.1"/><circle cx="1029.3" cy="692.7" r="2.1"/><circle cx="980.1" cy="699.6" r="2.1"/><circle cx="983.9" cy="699.2" r="2.1"/><circle cx="1101.6" cy="698.1" r="2.1"/><circle cx="1105.5" cy="696.5" r="2.1"/><circle cx="1000.1" cy="701.6" r="2.1"/><circle cx="1010.8" cy="701.2" r="2.1"/><circle cx="1028.2" cy="702.7" r="2.1"/><circle cx="1048.1" cy="701.5" r="2.1"/><circle cx="971.2" cy="707.5" r="2.1"/><circle cx="967.1" cy="712.0" r="2.1"/><circle cx="975.3" cy="711.1" r="2.1"/><circle cx="979.0" cy="713.9" r="2.1"/><circle cx="982.6" cy="714.8" r="2.1"/><circle cx="966.2" cy="714.8" r="2.1"/><circle cx="977.1" cy="716.2" r="2.1"/><circle cx="988.1" cy="714.8" r="2.1"/><circle cx="1000.0" cy="711.1" r="2.1"/><circle cx="1007.4" cy="708.4" r="2.1"/><circle cx="1016.5" cy="704.7" r="2.1"/><circle cx="1013.8" cy="709.3" r="2.1"/><circle cx="1019.3" cy="707.5" r="2.1"/><circle cx="1021.1" cy="711.1" r="2.1"/><circle cx="1015.6" cy="713.0" r="2.1"/><circle cx="1020.2" cy="714.8" r="2.1"/><circle cx="1023.8" cy="710.2" r="2.1"/><circle cx="1012.9" cy="714.8" r="2.1"/><circle cx="1024.8" cy="713.9" r="2.1"/><circle cx="1017.5" cy="711.0" r="2.1"/><circle cx="1033.0" cy="708.4" r="2.1"/><circle cx="1035.8" cy="711.1" r="2.1"/><circle cx="1032.1" cy="713.0" r="2.1"/><circle cx="1034.8" cy="715.3" r="2.1"/><circle cx="1038.5" cy="713.0" r="2.1"/><circle cx="1044.0" cy="708.4" r="2.1"/><circle cx="1047.2" cy="710.2" r="2.1"/><circle cx="1052.7" cy="710.2" r="2.1"/><circle cx="1044.9" cy="713.9" r="2.1"/><circle cx="1050.4" cy="714.8" r="2.1"/><circle cx="1063.2" cy="712.0" r="2.1"/><circle cx="1066.9" cy="710.2" r="2.1"/><circle cx="1068.7" cy="714.8" r="2.1"/><circle cx="1062.3" cy="715.7" r="2.1"/><circle cx="1079.3" cy="712.0" r="2.1"/><circle cx="1090.7" cy="714.8" r="2.1"/><circle cx="1098.5" cy="714.8" r="2.1"/><circle cx="1090.1" cy="706.5" r="2.1"/></g><line x1="975.5" y1="709.6" x2="1226.3" y2="629.5" stroke="#222" stroke-width="1.8"/><path d="M956.6 466.9V715.8H1275.3" fill="none" stroke="#333" stroke-width="2.1"/><path d="M950.4 715.8H956.6M950.4 653.6H956.6M950.4 591.3H956.6M950.4 529.1H956.6M950.4 466.9H956.6M956.6 715.8V720.8M1020.3 715.8V720.8M1084.1 715.8V720.8M1147.8 715.8V720.8M1211.6 715.8V720.8M1275.3 715.8V720.8" fill="none" stroke="#333" stroke-width="2"/></g>
<g><text x="1377.9" y="721.2" text-anchor="end" font-size="20.4">0</text><text x="1377.9" y="638.2" text-anchor="end" font-size="20.4">100</text><text x="1377.9" y="555.3" text-anchor="end" font-size="20.4">200</text><text x="1377.9" y="472.3" text-anchor="end" font-size="20.4">300</text><text x="1395.4" y="743.9" text-anchor="middle" font-size="19.4" letter-spacing="-0.60">0</text><text x="1459.2" y="743.9" text-anchor="middle" font-size="19.4" letter-spacing="-0.60">2000</text><text x="1522.9" y="743.9" text-anchor="middle" font-size="19.4" letter-spacing="-0.60">4000</text><text x="1586.7" y="743.9" text-anchor="middle" font-size="19.4" letter-spacing="-0.60">6000</text><text x="1650.4" y="743.9" text-anchor="middle" font-size="19.4" letter-spacing="-0.60">8000</text><text x="1714.2" y="743.9" text-anchor="middle" font-size="19.4" letter-spacing="-0.60">10000</text><text x="1554.8" y="770.8" text-anchor="middle" font-size="19.7" xml:space="preserve">4-HNE  (pg/mL)</text><text transform="translate(1334.2 591.4) rotate(-90)" text-anchor="middle" font-size="20.6" xml:space="preserve">CRP (mg/L)</text><text x="1312.9" y="451.5" font-size="46.0">H</text><text x="1484.0" y="466.1" font-size="23.0" xml:space="preserve">r=0.115, <tspan font-style="italic" dx="2.4">P</tspan><tspan fill="#888" font-size="20.5" dx="0.8" dy="-0.6">=</tspan><tspan dy="0.6" dx="0.2">0.404</tspan></text><g fill="#595959" stroke="#2b2b2b" stroke-width="1"><circle cx="1417.2" cy="487.4" r="2.85"/><circle cx="1450.3" cy="497.2" r="2.85"/><circle cx="1469.1" cy="495.4" r="2.85"/><circle cx="1602.5" cy="514.9" r="2.85"/><circle cx="1482.9" cy="525.7" r="2.85"/><circle cx="1503.4" cy="565.7" r="2.85"/><circle cx="1514.9" cy="565.7" r="2.85"/><circle cx="1521.8" cy="565.7" r="2.85"/><circle cx="1480.6" cy="593.1" r="2.85"/><circle cx="1498.3" cy="608.5" r="2.85"/><circle cx="1502.2" cy="610.4" r="2.85"/><circle cx="1491.4" cy="614.5" r="2.85"/><circle cx="1508.3" cy="616.5" r="2.85"/><circle cx="1512.5" cy="623.5" r="2.85"/><circle cx="1453.4" cy="621.5" r="2.85"/><circle cx="1501.4" cy="636.1" r="2.85"/><circle cx="1493.4" cy="640.1" r="2.85"/><circle cx="1538.6" cy="638.8" r="2.85"/><circle cx="1558.3" cy="641.9" r="2.85"/><circle cx="1544.5" cy="646.8" r="2.85"/><circle cx="1421.1" cy="647.8" r="2.85"/><circle cx="1484.5" cy="647.3" r="2.85"/><circle cx="1486.0" cy="651.9" r="2.85"/><circle cx="1509.8" cy="652.2" r="2.85"/><circle cx="1513.2" cy="650.7" r="2.85"/><circle cx="1528.6" cy="650.4" r="2.85"/><circle cx="1528.6" cy="655.8" r="2.85"/><circle cx="1589.5" cy="650.7" r="2.85"/><circle cx="1438.6" cy="652.7" r="2.85"/><circle cx="1440.6" cy="660.4" r="2.85"/><circle cx="1434.5" cy="665.0" r="2.85"/><circle cx="1431.7" cy="668.8" r="2.85"/><circle cx="1454.2" cy="665.3" r="2.85"/><circle cx="1507.1" cy="662.4" r="2.85"/><circle cx="1409.4" cy="669.3" r="2.85"/><circle cx="1464.2" cy="673.2" r="2.85"/><circle cx="1480.6" cy="674.2" r="2.85"/><circle cx="1435.7" cy="678.1" r="2.85"/><circle cx="1514.9" cy="669.3" r="2.85"/><circle cx="1446.5" cy="686.1" r="2.85"/><circle cx="1476.8" cy="685.8" r="2.85"/><circle cx="1490.6" cy="686.8" r="2.85"/><circle cx="1522.9" cy="688.8" r="2.85"/><circle cx="1533.7" cy="685.8" r="2.85"/><circle cx="1536.5" cy="694.7" r="2.85"/><circle cx="1466.0" cy="688.8" r="2.85"/><circle cx="1466.1" cy="690.2" r="2.85"/><circle cx="1523.0" cy="689.0" r="2.85"/><circle cx="1535.0" cy="694.6" r="2.85"/><circle cx="1540.3" cy="708.4" r="2.85"/><circle cx="1579.5" cy="713.5" r="2.85"/><circle cx="1664.0" cy="611.3" r="2.85"/><circle cx="1404.2" cy="706.2" r="2.85"/><circle cx="1412.5" cy="704.9" r="2.85"/><circle cx="1418.0" cy="699.4" r="2.85"/><circle cx="1436.8" cy="701.7" r="2.85"/><circle cx="1448.2" cy="700.3" r="2.85"/><circle cx="1458.3" cy="696.6" r="2.85"/><circle cx="1469.3" cy="695.3" r="2.85"/><circle cx="1467.4" cy="699.4" r="2.85"/><circle cx="1476.6" cy="697.5" r="2.85"/><circle cx="1482.5" cy="697.5" r="2.85"/><circle cx="1477.5" cy="702.1" r="2.85"/><circle cx="1498.6" cy="704.4" r="2.85"/><circle cx="1502.2" cy="697.5" r="2.85"/><circle cx="1510.0" cy="700.3" r="2.85"/><circle cx="1507.3" cy="704.9" r="2.85"/><circle cx="1515.0" cy="707.6" r="2.85"/><circle cx="1519.6" cy="710.8" r="2.85"/><circle cx="1465.6" cy="689.3" r="2.85"/><circle cx="1406.8" cy="714.1" r="2.85"/><circle cx="1408.7" cy="714.3" r="2.85"/><circle cx="1409.9" cy="709.9" r="2.85"/><circle cx="1413.0" cy="709.5" r="2.85"/><circle cx="1416.2" cy="715.2" r="2.85"/><circle cx="1414.9" cy="711.3" r="2.85"/><circle cx="1418.7" cy="712.8" r="2.85"/><circle cx="1419.1" cy="710.4" r="2.85"/><circle cx="1422.5" cy="714.5" r="2.85"/><circle cx="1422.1" cy="711.4" r="2.85"/><circle cx="1426.2" cy="714.7" r="2.85"/><circle cx="1425.4" cy="710.6" r="2.85"/><circle cx="1429.8" cy="714.5" r="2.85"/><circle cx="1429.8" cy="710.2" r="2.85"/><circle cx="1432.3" cy="714.6" r="2.85"/><circle cx="1436.3" cy="710.0" r="2.85"/><circle cx="1439.9" cy="714.0" r="2.85"/><circle cx="1445.0" cy="713.7" r="2.85"/><circle cx="1445.0" cy="710.3" r="2.85"/><circle cx="1448.3" cy="710.4" r="2.85"/><circle cx="1449.5" cy="706.8" r="2.85"/><circle cx="1452.0" cy="715.4" r="2.85"/><circle cx="1451.4" cy="711.9" r="2.85"/><circle cx="1456.0" cy="713.5" r="2.85"/><circle cx="1454.6" cy="709.5" r="2.85"/><circle cx="1459.0" cy="714.2" r="2.85"/><circle cx="1459.7" cy="710.6" r="2.85"/><circle cx="1459.5" cy="706.5" r="2.85"/><circle cx="1459.6" cy="703.8" r="2.85"/><circle cx="1458.2" cy="700.0" r="2.85"/><circle cx="1463.0" cy="715.5" r="2.85"/><circle cx="1461.9" cy="710.6" r="2.85"/><circle cx="1465.8" cy="714.6" r="2.85"/><circle cx="1465.6" cy="710.9" r="2.85"/><circle cx="1465.8" cy="706.9" r="2.85"/><circle cx="1469.4" cy="714.0" r="2.85"/><circle cx="1469.5" cy="709.7" r="2.85"/><circle cx="1468.6" cy="702.0" r="2.85"/><circle cx="1472.1" cy="713.2" r="2.85"/><circle cx="1472.8" cy="710.8" r="2.85"/><circle cx="1472.4" cy="706.5" r="2.85"/><circle cx="1475.7" cy="707.1" r="2.85"/><circle cx="1478.6" cy="713.9" r="2.85"/><circle cx="1481.1" cy="714.1" r="2.85"/><circle cx="1482.7" cy="710.7" r="2.85"/><circle cx="1482.5" cy="707.2" r="2.85"/><circle cx="1486.0" cy="714.6" r="2.85"/><circle cx="1485.8" cy="710.9" r="2.85"/><circle cx="1485.4" cy="706.4" r="2.85"/><circle cx="1487.7" cy="714.6" r="2.85"/><circle cx="1489.3" cy="711.0" r="2.85"/><circle cx="1489.0" cy="707.1" r="2.85"/><circle cx="1491.0" cy="714.6" r="2.85"/><circle cx="1491.8" cy="706.3" r="2.85"/><circle cx="1495.3" cy="715.2" r="2.85"/><circle cx="1498.8" cy="709.7" r="2.85"/><circle cx="1499.2" cy="706.7" r="2.85"/><circle cx="1501.4" cy="714.4" r="2.85"/><circle cx="1505.6" cy="714.5" r="2.85"/><circle cx="1508.5" cy="714.5" r="2.85"/><circle cx="1509.0" cy="708.0" r="2.85"/><circle cx="1511.2" cy="714.0" r="2.85"/><circle cx="1511.2" cy="710.4" r="2.85"/><circle cx="1514.9" cy="713.8" r="2.85"/><circle cx="1515.9" cy="710.3" r="2.85"/><circle cx="1517.3" cy="710.2" r="2.85"/><circle cx="1522.1" cy="713.6" r="2.85"/></g><g fill="#595959"><circle cx="1417.2" cy="487.4" r="2.1"/><circle cx="1450.3" cy="497.2" r="2.1"/><circle cx="1469.1" cy="495.4" r="2.1"/><circle cx="1602.5" cy="514.9" r="2.1"/><circle cx="1482.9" cy="525.7" r="2.1"/><circle cx="1503.4" cy="565.7" r="2.1"/><circle cx="1514.9" cy="565.7" r="2.1"/><circle cx="1521.8" cy="565.7" r="2.1"/><circle cx="1480.6" cy="593.1" r="2.1"/><circle cx="1498.3" cy="608.5" r="2.1"/><circle cx="1502.2" cy="610.4" r="2.1"/><circle cx="1491.4" cy="614.5" r="2.1"/><circle cx="1508.3" cy="616.5" r="2.1"/><circle cx="1512.5" cy="623.5" r="2.1"/><circle cx="1453.4" cy="621.5" r="2.1"/><circle cx="1501.4" cy="636.1" r="2.1"/><circle cx="1493.4" cy="640.1" r="2.1"/><circle cx="1538.6" cy="638.8" r="2.1"/><circle cx="1558.3" cy="641.9" r="2.1"/><circle cx="1544.5" cy="646.8" r="2.1"/><circle cx="1421.1" cy="647.8" r="2.1"/><circle cx="1484.5" cy="647.3" r="2.1"/><circle cx="1486.0" cy="651.9" r="2.1"/><circle cx="1509.8" cy="652.2" r="2.1"/><circle cx="1513.2" cy="650.7" r="2.1"/><circle cx="1528.6" cy="650.4" r="2.1"/><circle cx="1528.6" cy="655.8" r="2.1"/><circle cx="1589.5" cy="650.7" r="2.1"/><circle cx="1438.6" cy="652.7" r="2.1"/><circle cx="1440.6" cy="660.4" r="2.1"/><circle cx="1434.5" cy="665.0" r="2.1"/><circle cx="1431.7" cy="668.8" r="2.1"/><circle cx="1454.2" cy="665.3" r="2.1"/><circle cx="1507.1" cy="662.4" r="2.1"/><circle cx="1409.4" cy="669.3" r="2.1"/><circle cx="1464.2" cy="673.2" r="2.1"/><circle cx="1480.6" cy="674.2" r="2.1"/><circle cx="1435.7" cy="678.1" r="2.1"/><circle cx="1514.9" cy="669.3" r="2.1"/><circle cx="1446.5" cy="686.1" r="2.1"/><circle cx="1476.8" cy="685.8" r="2.1"/><circle cx="1490.6" cy="686.8" r="2.1"/><circle cx="1522.9" cy="688.8" r="2.1"/><circle cx="1533.7" cy="685.8" r="2.1"/><circle cx="1536.5" cy="694.7" r="2.1"/><circle cx="1466.0" cy="688.8" r="2.1"/><circle cx="1466.1" cy="690.2" r="2.1"/><circle cx="1523.0" cy="689.0" r="2.1"/><circle cx="1535.0" cy="694.6" r="2.1"/><circle cx="1540.3" cy="708.4" r="2.1"/><circle cx="1579.5" cy="713.5" r="2.1"/><circle cx="1664.0" cy="611.3" r="2.1"/><circle cx="1404.2" cy="706.2" r="2.1"/><circle cx="1412.5" cy="704.9" r="2.1"/><circle cx="1418.0" cy="699.4" r="2.1"/><circle cx="1436.8" cy="701.7" r="2.1"/><circle cx="1448.2" cy="700.3" r="2.1"/><circle cx="1458.3" cy="696.6" r="2.1"/><circle cx="1469.3" cy="695.3" r="2.1"/><circle cx="1467.4" cy="699.4" r="2.1"/><circle cx="1476.6" cy="697.5" r="2.1"/><circle cx="1482.5" cy="697.5" r="2.1"/><circle cx="1477.5" cy="702.1" r="2.1"/><circle cx="1498.6" cy="704.4" r="2.1"/><circle cx="1502.2" cy="697.5" r="2.1"/><circle cx="1510.0" cy="700.3" r="2.1"/><circle cx="1507.3" cy="704.9" r="2.1"/><circle cx="1515.0" cy="707.6" r="2.1"/><circle cx="1519.6" cy="710.8" r="2.1"/><circle cx="1465.6" cy="689.3" r="2.1"/><circle cx="1406.8" cy="714.1" r="2.1"/><circle cx="1408.7" cy="714.3" r="2.1"/><circle cx="1409.9" cy="709.9" r="2.1"/><circle cx="1413.0" cy="709.5" r="2.1"/><circle cx="1416.2" cy="715.2" r="2.1"/><circle cx="1414.9" cy="711.3" r="2.1"/><circle cx="1418.7" cy="712.8" r="2.1"/><circle cx="1419.1" cy="710.4" r="2.1"/><circle cx="1422.5" cy="714.5" r="2.1"/><circle cx="1422.1" cy="711.4" r="2.1"/><circle cx="1426.2" cy="714.7" r="2.1"/><circle cx="1425.4" cy="710.6" r="2.1"/><circle cx="1429.8" cy="714.5" r="2.1"/><circle cx="1429.8" cy="710.2" r="2.1"/><circle cx="1432.3" cy="714.6" r="2.1"/><circle cx="1436.3" cy="710.0" r="2.1"/><circle cx="1439.9" cy="714.0" r="2.1"/><circle cx="1445.0" cy="713.7" r="2.1"/><circle cx="1445.0" cy="710.3" r="2.1"/><circle cx="1448.3" cy="710.4" r="2.1"/><circle cx="1449.5" cy="706.8" r="2.1"/><circle cx="1452.0" cy="715.4" r="2.1"/><circle cx="1451.4" cy="711.9" r="2.1"/><circle cx="1456.0" cy="713.5" r="2.1"/><circle cx="1454.6" cy="709.5" r="2.1"/><circle cx="1459.0" cy="714.2" r="2.1"/><circle cx="1459.7" cy="710.6" r="2.1"/><circle cx="1459.5" cy="706.5" r="2.1"/><circle cx="1459.6" cy="703.8" r="2.1"/><circle cx="1458.2" cy="700.0" r="2.1"/><circle cx="1463.0" cy="715.5" r="2.1"/><circle cx="1461.9" cy="710.6" r="2.1"/><circle cx="1465.8" cy="714.6" r="2.1"/><circle cx="1465.6" cy="710.9" r="2.1"/><circle cx="1465.8" cy="706.9" r="2.1"/><circle cx="1469.4" cy="714.0" r="2.1"/><circle cx="1469.5" cy="709.7" r="2.1"/><circle cx="1468.6" cy="702.0" r="2.1"/><circle cx="1472.1" cy="713.2" r="2.1"/><circle cx="1472.8" cy="710.8" r="2.1"/><circle cx="1472.4" cy="706.5" r="2.1"/><circle cx="1475.7" cy="707.1" r="2.1"/><circle cx="1478.6" cy="713.9" r="2.1"/><circle cx="1481.1" cy="714.1" r="2.1"/><circle cx="1482.7" cy="710.7" r="2.1"/><circle cx="1482.5" cy="707.2" r="2.1"/><circle cx="1486.0" cy="714.6" r="2.1"/><circle cx="1485.8" cy="710.9" r="2.1"/><circle cx="1485.4" cy="706.4" r="2.1"/><circle cx="1487.7" cy="714.6" r="2.1"/><circle cx="1489.3" cy="711.0" r="2.1"/><circle cx="1489.0" cy="707.1" r="2.1"/><circle cx="1491.0" cy="714.6" r="2.1"/><circle cx="1491.8" cy="706.3" r="2.1"/><circle cx="1495.3" cy="715.2" r="2.1"/><circle cx="1498.8" cy="709.7" r="2.1"/><circle cx="1499.2" cy="706.7" r="2.1"/><circle cx="1501.4" cy="714.4" r="2.1"/><circle cx="1505.6" cy="714.5" r="2.1"/><circle cx="1508.5" cy="714.5" r="2.1"/><circle cx="1509.0" cy="708.0" r="2.1"/><circle cx="1511.2" cy="714.0" r="2.1"/><circle cx="1511.2" cy="710.4" r="2.1"/><circle cx="1514.9" cy="713.8" r="2.1"/><circle cx="1515.9" cy="710.3" r="2.1"/><circle cx="1517.3" cy="710.2" r="2.1"/><circle cx="1522.1" cy="713.6" r="2.1"/></g><line x1="1405.2" y1="711.9" x2="1663.6" y2="611.9" stroke="#222" stroke-width="1.8"/><path d="M1395.4 466.9V715.8H1714.2" fill="none" stroke="#333" stroke-width="2.1"/><path d="M1389.2 715.8H1395.4M1389.2 632.8H1395.4M1389.2 549.9H1395.4M1389.2 466.9H1395.4M1395.4 715.8V720.8M1459.2 715.8V720.8M1522.9 715.8V720.8M1586.7 715.8V720.8M1650.4 715.8V720.8M1714.2 715.8V720.8" fill="none" stroke="#333" stroke-width="2"/></g>
</svg></body></html>
